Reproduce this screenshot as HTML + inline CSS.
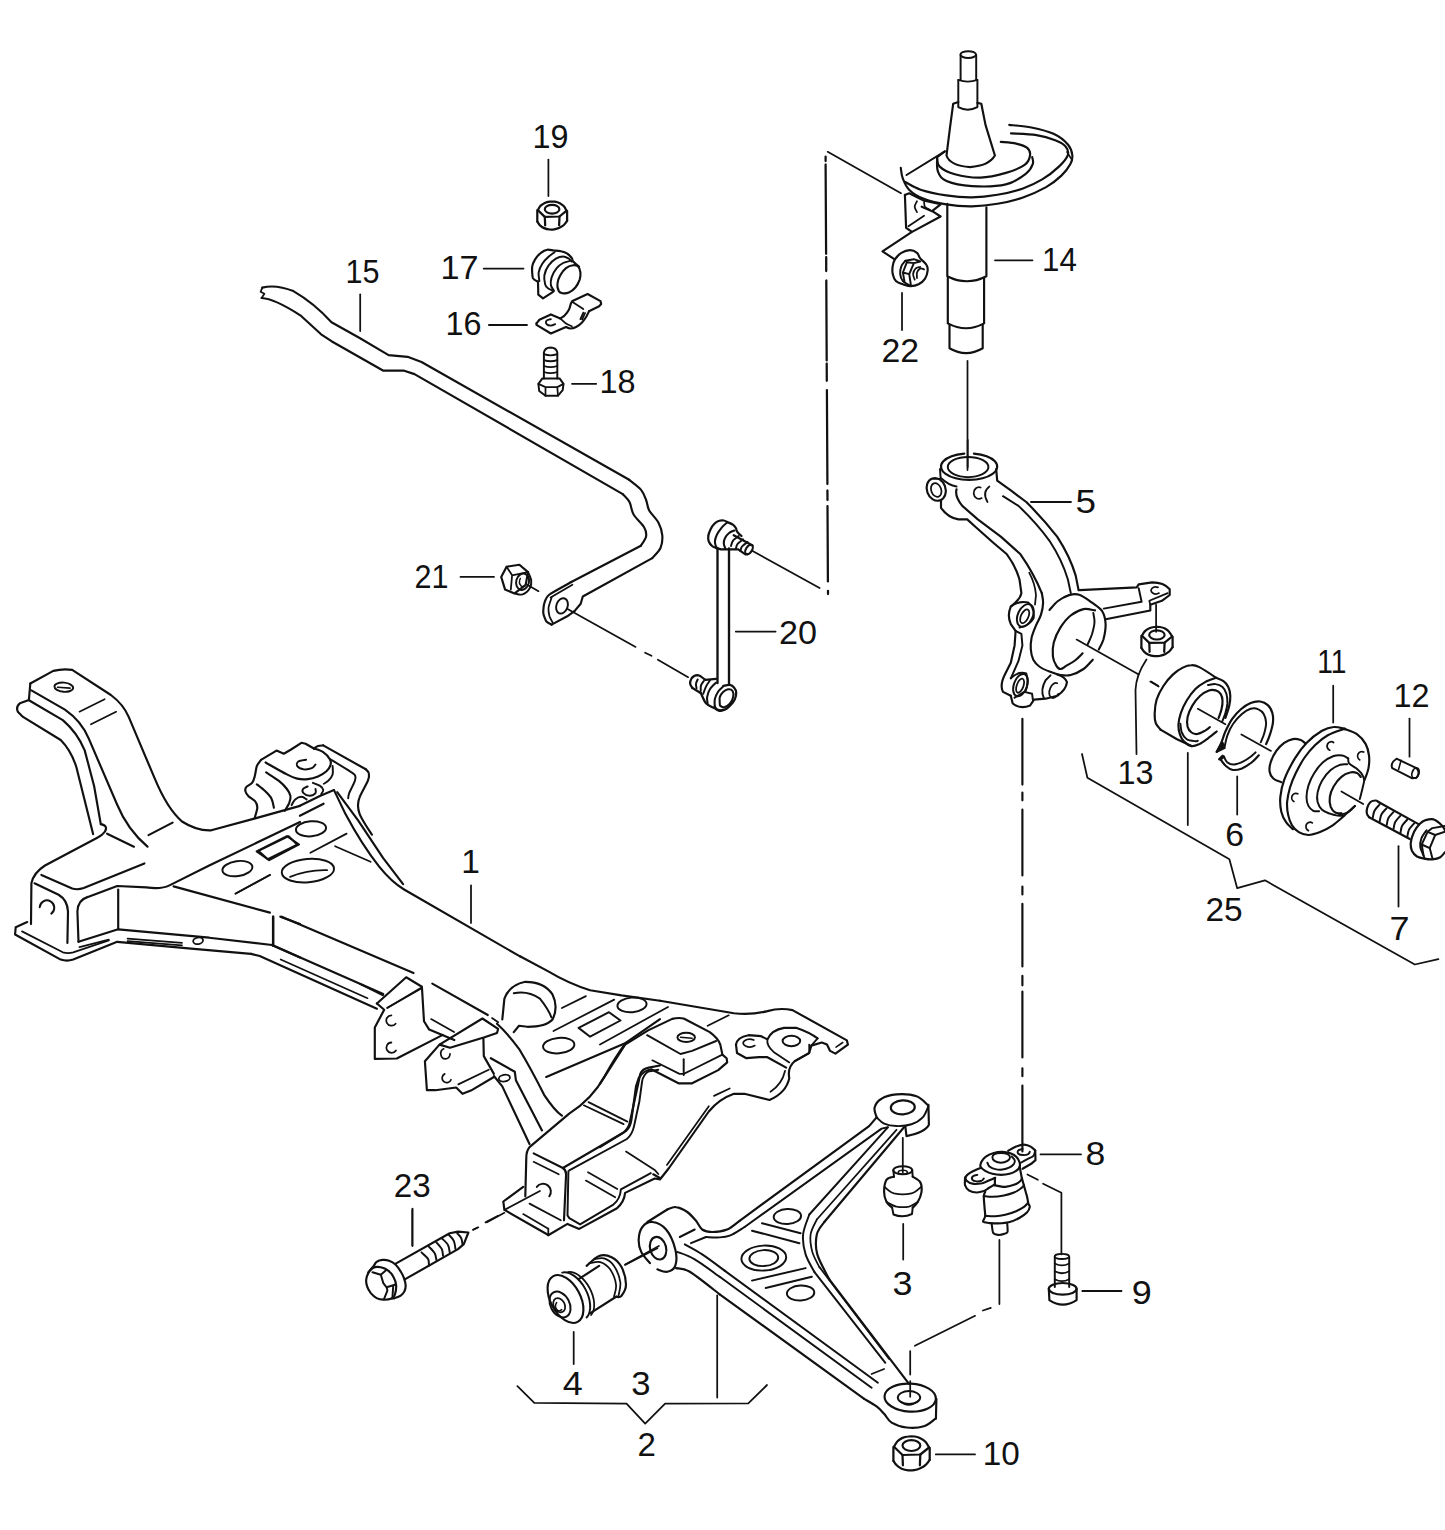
<!DOCTYPE html>
<html><head><meta charset="utf-8"><title>Front suspension parts diagram</title>
<style>
html,body{margin:0;padding:0;background:#fff;}
body{width:1445px;height:1530px;overflow:hidden;}
svg{display:block;}
svg path,svg ellipse,svg line,svg circle{fill:none;stroke:#111;stroke-linecap:round;stroke-linejoin:round;}
svg text{font-family:"Liberation Sans","DejaVu Sans",sans-serif;fill:#111;stroke:none;}
</style></head><body>
<svg width="1445" height="1530" viewBox="0 0 1445 1530">
<rect width="1445" height="1530" fill="#fff"/>
<g>
<path d="M 30.3 683.5 L 53.3 670.9 Q 62.8 668.4 72.2 669.9 L 110.9 695.0 Q 123.4 704.4 128.7 716.9 L 154.8 778.7 Q 167.4 809.0 182.0 821.5 Q 196.7 831.0 211.3 830.3 L 255.2 818.4 L 300.0 805.9" stroke-width="2.16" />
<path d="M 30.3 683.5 L 28.9 699.8" stroke-width="2.16" />
<path d="M 31.4 690.4 L 64.9 709.6 Q 81.6 721.1 88.9 738.9 L 117.2 804.8 Q 127.6 829.9 147.5 846.7" stroke-width="2.16" />
<path d="M 28.9 700.2 L 62.8 720.1 Q 77.4 732.6 84.7 750.4 L 94.1 786.0 L 100.8 824.1" stroke-width="2.16" />
<path d="M 28.2 700.2 L 19.9 703.3 Q 15.7 706.5 17.8 711.7 L 23.0 716.9 L 60.7 740.0 Q 71.1 750.4 76.4 767.2 L 93.1 834.1" stroke-width="2.16" />
<path d="M 100.8 824.1 Q 108.8 825.7 104.6 832.0 Q 102.5 835.1 97.3 837.7 L 45.0 865.5 Q 33.5 872.8 31.4 883.3 L 31.0 924.1" stroke-width="2.16" />
<path d="M 107.1 833.7 L 133.9 846.7" stroke-width="2.16" />
<path d="M 148.5 835.1 L 172.6 822.6" stroke-width="2.16" />
<path d="M 41.4 874.9 L 72.2 888.5 Q 77.4 890.2 83.7 888.1 L 144.4 863.4" stroke-width="2.16" />
<path d="M 34.5 883.3 L 58.6 894.8 Q 67.4 900.0 68.0 911.5 L 67.4 942.9" stroke-width="2.16" />
<path d="M 78.5 941.8 L 77.4 911.5 Q 77.8 900.0 87.9 896.9 L 117.2 886.0 L 146.4 887.4 Q 161.1 889.5 169.5 885.4 L 209.2 865.5 L 300.0 822.0" stroke-width="2.16" />
<path d="M 118.2 889.5 L 118.2 929.3" stroke-width="2.16" />
<path d="M 78.5 941.8 L 118.2 929.3 L 209.2 937.7 L 272.0 945.0 L 300.0 957.5" stroke-width="2.16" />
<path d="M 27.2 922.0 L 15.7 927.2 L 15.1 934.5 L 60.7 959.6 Q 66.9 961.7 73.2 959.6 L 117.2 941.8 L 188.3 948.3 L 251.0 953.8" stroke-width="2.16" />
<path d="M 22.0 931.4 L 62.8 952.3 Q 68.0 953.8 73.2 952.3 L 108.8 940.4" stroke-width="1.76" />
<path d="M 79.5 947.1 L 108.8 939.7" stroke-width="1.76" />
<path d="M 127.6 938.7 L 182.0 942.9" stroke-width="1.76" />
<path d="M 127.6 941.2 L 182.0 945.4" stroke-width="1.76" />
<ellipse cx="198.1" cy="940.8" rx="5.0" ry="3.3" transform="rotate(-10 198.1 940.8)" stroke-width="1.76" />
<path d="M 273.0 916.7 L 273.0 945.0" stroke-width="2.16" />
<path d="M 173.6 886.4 L 269.9 912.6" stroke-width="2.16" />
<path d="M 280.3 916.7 L 300.0 924.1" stroke-width="2.16" />
<ellipse cx="63.8" cy="687.2" rx="9.4" ry="4.6" transform="rotate(5 63.8 687.2)" stroke-width="1.96" />
<path d="M 57.5 687.2 L 70.1 688.1" stroke-width="1.57" />
<path d="M 79.5 711.7 L 104.6 699.2" stroke-width="1.76" />
<path d="M 91.0 724.3 L 116.1 711.7" stroke-width="1.76" />
<path d="M 39.7 907.3 A 7.3 7.3 0 1 1 51.3 913.6" stroke-width="1.96" />
<ellipse cx="237.4" cy="868.6" rx="15.1" ry="7.5" transform="rotate(-8 237.4 868.6)" stroke-width="1.96" />
<path d="M 258.4 850.8 L 288.7 836.2 L 297.1 844.6 L 267.8 859.2 Z" stroke-width="1.96" />
<path d="M 235.4 893.7 L 269.9 874.9" stroke-width="1.76" />
<path d="M 299.9 805.8 L 320.4 795.7 L 334.0 790.1" stroke-width="2.16" />
<path d="M 299.9 815.8 L 323.6 803.7" stroke-width="2.16" />
<path d="M 334.0 790.1 L 345.5 814.1 Q 362.3 845.5 379.0 866.4 Q 391.5 882.1 404.1 889.5 L 520.0 956.4" stroke-width="2.16" />
<path d="M 337.2 792.2 L 358.1 820.4 L 383.2 858.1 L 403.1 884.2" stroke-width="2.16" />
<path d="M254.7 818.0 C255.0 816.8 257.3 809.6 257.3 807.7 C257.4 805.7 256.3 802.8 255.2 801.4 C254.2 800.1 249.6 797.5 248.5 796.2 C247.3 795.0 245.6 792.1 245.4 791.1 C245.1 790.0 245.6 787.9 246.4 786.9 C247.2 785.9 251.2 784.0 252.1 782.8 C253.1 781.5 254.2 778.5 254.7 776.5 C255.3 774.6 256.1 768.1 256.8 766.1 C257.5 764.2 260.5 760.6 261.0 759.9" stroke-width="2.16" />
<path d="M 261.0 759.9 L 276.5 750.6 L 283.8 753.7 L 291.1 749.5 L 301.4 742.8 L 305.6 743.8 L 313.9 748.5" stroke-width="2.16" />
<path d="M313.9 748.5 C314.6 748.1 316.5 746.4 318.0 745.9 C319.6 745.4 322.4 745.5 323.2 745.4" stroke-width="2.16" />
<path d="M 323.2 745.4 L 365.8 769.3" stroke-width="2.16" />
<path d="M365.8 769.3 C366.3 769.9 368.6 771.5 368.9 773.4 C369.3 775.3 369.4 776.7 367.9 780.7 C366.3 784.7 361.2 793.1 359.6 797.3 C357.9 801.4 358.0 802.8 358.0 805.6 C358.0 808.4 358.3 810.6 359.6 813.9 C360.9 817.2 363.7 821.9 365.8 825.3 C367.9 828.8 371.0 833.1 372.0 834.7" stroke-width="2.16" />
<path d="M330.5 759.4 C332.5 760.6 352.3 772.7 354.4 774.4 C356.4 776.2 355.3 779.1 354.9 780.7 C354.5 782.2 349.8 791.7 349.2 793.1 C348.6 794.6 348.2 797.9 348.2 798.3" stroke-width="1.96" />
<path d="M265.6 762.5 C269.2 764.5 281.6 771.8 286.9 774.4 C292.2 777.1 293.8 777.8 297.3 778.6 C300.7 779.4 304.2 779.5 307.7 779.1 C311.1 778.8 314.9 777.8 318.0 776.5 C321.2 775.2 324.3 773.2 326.4 771.3 C328.4 769.4 329.9 767.1 330.5 765.1 C331.1 763.1 331.2 761.6 330.0 759.4 C328.8 757.2 325.9 753.9 323.2 752.1 C320.6 750.3 315.5 749.1 313.9 748.5" stroke-width="2.16" />
<path d="M306.1 759.7 C304.8 760.0 299.8 760.4 298.3 761.5 C296.9 762.5 296.4 764.8 297.3 766.1 C298.2 767.4 301.1 768.9 303.5 769.3 C305.9 769.6 309.8 769.0 311.8 768.2 C313.8 767.4 314.8 765.2 315.5 764.6" stroke-width="1.96" />
<path d="M266.1 772.4 C268.2 773.8 275.1 777.9 278.6 780.7 C282.1 783.4 284.9 786.4 286.9 789.0 C288.9 791.6 290.2 793.8 290.5 796.2 C290.9 798.7 289.9 801.1 289.0 803.5 C288.0 805.9 285.5 809.6 284.8 810.8" stroke-width="2.16" />
<path d="M256.8 784.3 C258.2 785.4 262.7 788.7 265.1 791.1 C267.5 793.4 269.9 795.6 271.3 798.3 C272.8 801.1 273.5 806.1 273.9 807.7" stroke-width="2.16" />
<path d="M332.6 766.1 C332.6 767.5 333.3 772.0 332.6 774.4 C331.9 776.9 329.9 779.1 328.4 780.7 C327.0 782.2 324.5 783.3 323.8 783.8" stroke-width="1.96" />
<path d="M307.7 786.4 C306.9 786.8 303.7 787.9 303.0 789.0 C302.3 790.1 302.4 792.0 303.5 793.1 C304.6 794.3 307.8 795.7 309.7 795.7 C311.7 795.7 314.5 794.3 315.5 793.1 C316.4 792.0 315.5 789.7 315.5 789.0" stroke-width="1.96" />
<path d="M312.9 782.8 C314.1 783.3 318.4 784.7 320.1 785.9 C321.9 787.1 323.1 788.6 323.2 790.0 C323.4 791.4 321.5 793.5 321.2 794.2" stroke-width="1.96" />
<path d="M291.6 805.1 C292.2 804.1 293.6 800.7 295.2 799.4 C296.9 798.0 299.5 796.8 301.4 796.8 C303.3 796.8 305.8 798.9 306.6 799.4" stroke-width="1.96" />
<ellipse cx="311.0" cy="828.8" rx="15.1" ry="7.5" transform="rotate(-5 311.0 828.8)" stroke-width="1.96" />
<path d="M 256.6 851.4 L 286.9 836.1 L 299.1 844.5 L 269.2 860.2 Z" stroke-width="1.96" />
<ellipse cx="307.9" cy="870.6" rx="26.2" ry="11.7" transform="rotate(-5 307.9 870.6)" stroke-width="1.96" />
<path d="M 290.1 876.9 Q 307.9 869.6 327.1 870.2" stroke-width="1.76" />
<path d="M 235.7 893.6 L 270.2 874.8" stroke-width="1.76" />
<path d="M 310.4 852.8 L 346.6 833.6" stroke-width="1.76" />
<path d="M 335.1 846.2 L 370.6 861.8" stroke-width="1.76" />
<path d="M 273.3 916.7 L 273.3 945.9" stroke-width="2.16" />
<path d="M 281.7 916.7 L 413.5 973.1" stroke-width="2.16" />
<path d="M 271.9 944.9 L 383.2 994.1" stroke-width="2.16" />
<path d="M 251.0 953.9 L 259.7 956.0 L 376.9 1008.7" stroke-width="2.16" />
<path d="M 280.7 959.5 L 367.5 998.2" stroke-width="1.76" />
<path d="M 376.9 1003.5 L 406.2 977.3 L 421.9 986.7 L 424.0 1021.3 L 429.2 1029.6 L 454.3 1040.1" stroke-width="2.16" />
<path d="M 376.9 1003.5 L 384.2 1009.7 L 374.8 1027.5 L 374.8 1058.9 L 396.8 1058.5 L 442.8 1034.9" stroke-width="2.16" />
<path d="M 387.4 1007.7 L 420.8 988.8" stroke-width="1.76" />
<path d="M 432.3 983.6 L 487.8 1015.0" stroke-width="2.16" />
<path d="M 492.0 1018.1 L 498.2 1022.3" stroke-width="1.76" />
<path d="M 471.0 885.3 L 471.0 922.9" stroke-width="1.76" />
<path d="M 520.0 956.3 L 548.3 971.4 Q 569.2 983.9 590.1 990.2 L 621.5 995.4 L 660.0 1000.7" stroke-width="2.16" />
<path d="M 360.0 983.9 L 383.0 995.4" stroke-width="1.76" />
<path d="M 387.2 1008.0 L 420.7 988.1" stroke-width="1.76" />
<path d="M 391.4 1015.3 A 5.2 5.2 0 1 0 395.6 1023.7" stroke-width="1.76" />
<path d="M 391.4 1042.5 A 5.2 5.2 0 1 0 396.0 1050.5" stroke-width="1.76" />
<path d="M 431.1 1019.1 L 454.1 1032.1" stroke-width="1.76" />
<path d="M 439.5 1044.6 L 482.4 1018.5 L 498.1 1028.9 L 497.0 1033.1 L 484.5 1037.3 L 450.0 1047.7 Z" stroke-width="2.16" />
<path d="M 439.5 1044.6 L 424.9 1061.3 L 426.9 1090.2 L 435.3 1090.2 L 456.2 1087.5 L 462.5 1093.8 L 470.9 1090.6 L 493.9 1077.0" stroke-width="2.16" />
<path d="M 483.4 1038.3 L 483.8 1056.1 L 493.9 1073.9" stroke-width="2.16" />
<path d="M 458.3 1084.4 L 488.7 1069.7" stroke-width="1.76" />
<path d="M 443.7 1048.8 A 4.6 5.2 0 1 0 450.0 1054.0" stroke-width="1.76" />
<path d="M 444.7 1073.9 A 4.6 4.6 0 1 0 451.0 1079.7" stroke-width="1.76" />
<path d="M 502.3 1019.5 L 504.4 998.6 Q 509.6 985.0 525.3 981.8 Q 544.1 981.8 552.5 994.4 Q 558.7 1006.9 552.5 1019.5 Q 546.2 1026.8 527.4 1026.8 L 519.0 1025.8 L 513.8 1032.1" stroke-width="2.16" />
<path d="M 513.8 993.3 Q 527.4 990.2 539.9 998.6 Q 548.3 1009.0 551.4 1017.4" stroke-width="1.96" />
<path d="M 497.0 1023.7 Q 506.4 1032.1 519.0 1048.8 Q 531.5 1069.7 544.1 1094.8 Q 554.6 1110.5 561.9 1115.7" stroke-width="2.16" />
<path d="M 490.8 1058.2 L 514.8 1071.8 L 515.9 1080.2 L 542.0 1130.4" stroke-width="2.16" />
<path d="M 493.9 1076.0 L 502.3 1086.4 L 529.5 1144.0" stroke-width="2.16" />
<ellipse cx="504.4" cy="1078.1" rx="5.6" ry="3.3" transform="rotate(-10 504.4 1078.1)" stroke-width="1.76" />
<ellipse cx="632.0" cy="1004.9" rx="14.6" ry="7.3" transform="rotate(-5 632.0 1004.9)" stroke-width="1.96" />
<path d="M 578.6 1027.9 L 609.0 1012.2 L 620.5 1020.5 L 590.1 1036.7 Z" stroke-width="1.96" />
<ellipse cx="558.7" cy="1045.6" rx="15.7" ry="7.7" transform="rotate(-5 558.7 1045.6)" stroke-width="1.96" />
<path d="M 561.9 1008.0 L 585.9 996.1" stroke-width="1.76" />
<path d="M 553.5 1031.0 L 614.2 999.6" stroke-width="1.76" />
<path d="M 546.2 1077.0 L 625.7 1042.9 L 660.0 1019.1" stroke-width="2.16" />
<path d="M 625.7 1042.9 Q 615.2 1057.2 604.8 1076.0 Q 592.2 1099.0 569.2 1113.6 L 529.5 1147.1 Q 526.3 1151.3 526.3 1157.6 L 525.3 1196.3" stroke-width="2.16" />
<path d="M 523.2 1186.9 L 503.3 1201.5 L 504.4 1209.9 L 548.3 1235.0" stroke-width="2.16" />
<path d="M 533.6 1153.4 L 562.9 1168.0 Q 566.1 1170.1 566.1 1174.3 L 564.0 1220.3" stroke-width="2.16" />
<path d="M 562.9 1168.0 L 623.6 1132.5 Q 628.8 1128.3 629.9 1122.0 L 640.3 1073.9 Q 642.4 1068.7 648.7 1067.6 L 660.0 1065.5" stroke-width="2.16" />
<path d="M 583.8 1105.3 L 623.6 1124.1" stroke-width="1.76" />
<path d="M 588.5 1102.1 L 627.4 1121.6" stroke-width="1.76" />
<path d="M 533.6 1161.8 L 558.7 1174.3" stroke-width="1.76" />
<path d="M 588.0 1172.2 L 617.3 1189.0" stroke-width="1.76" />
<path d="M 585.9 1180.6 L 615.2 1197.3" stroke-width="1.76" />
<path d="M 536.8 1186.9 A 7.3 7.3 0 1 1 549.3 1196.3" stroke-width="1.96" />
<path d="M 504.4 1209.9 L 539.9 1191.0" stroke-width="1.76" />
<path d="M 485.5 1222.4 L 498.1 1215.7" stroke-width="1.76" />
<path d="M 473.0 1229.7 L 477.2 1227.7" stroke-width="1.76" />
<path d="M 529.5 1203.6 L 560.8 1220.3" stroke-width="1.76" />
<path d="M 523.2 1214.1 L 548.3 1228.7" stroke-width="1.76" />
<path d="M 548.3 1228.7 L 548.3 1235.0" stroke-width="1.76" />
<path d="M 412.3 1209.9 L 412.3 1245.4" stroke-width="1.76" />
<path d="M 660.0 1000.7 L 733.9 1013.2 Q 750.6 1015.3 767.4 1011.1 Q 779.9 1007.4 792.5 1010.1 L 846.9 1040.4 L 847.9 1044.6 L 835.4 1053.6 L 830.1 1050.9 L 827.0 1044.6 L 821.8 1042.5 L 811.3 1045.6 L 809.2 1053.0 L 794.6 1061.3 Q 787.2 1067.6 789.3 1078.1 Q 786.2 1092.7 769.5 1100.0 L 744.4 1093.8 L 733.9 1093.8 Q 719.2 1099.0 708.8 1111.5 L 669.0 1168.0 L 660.7 1178.5 L 653.3 1174.3" stroke-width="2.16" />
<path d="M 842.7 1042.5 L 836.0 1047.1" stroke-width="1.57" />
<path d="M 809.2 1044.6 L 809.2 1053.0" stroke-width="1.76" />
<path d="M 811.3 1045.6 L 817.6 1038.3" stroke-width="1.76" />
<path d="M 736.0 1044.6 Q 737.0 1037.3 748.5 1035.2 L 761.1 1036.2 L 767.4 1039.4 Q 771.5 1030.0 784.1 1027.9 L 796.7 1027.9 Q 809.2 1032.1 817.6 1038.3" stroke-width="2.16" />
<path d="M 736.0 1044.6 L 737.0 1053.0 L 746.4 1058.2 L 759.0 1057.2 L 767.4 1057.2 L 786.2 1067.6" stroke-width="2.16" />
<path d="M 767.4 1039.4 Q 766.3 1045.6 773.6 1051.9 L 789.3 1062.4" stroke-width="1.76" />
<path d="M 794.6 1061.3 L 809.2 1053.0" stroke-width="1.76" />
<path d="M 753.8 1040.0 A 6.7 3.8 0 1 0 754.8 1045.6" stroke-width="1.76" />
<ellipse cx="791.4" cy="1041.0" rx="8.8" ry="5.2" transform="rotate(0 791.4 1041.0)" stroke-width="1.96" />
<path d="M 770.5 1091.7 Q 782.0 1084.4 785.1 1070.8" stroke-width="1.76" />
<path d="M 600.0 1083.9 L 625.1 1044.6 L 648.1 1030.4 L 672.2 1018.9 Q 678.5 1017.4 683.7 1018.5 L 709.8 1032.1 Q 718.2 1038.3 720.3 1044.6 L 722.4 1054.6 L 726.6 1058.2 L 727.2 1062.4 L 718.2 1070.1 L 692.1 1083.3 L 678.5 1083.3 L 651.3 1069.3 Q 642.9 1070.8 638.7 1078.1 L 636.0 1086.4 L 631.4 1119.9 Q 630.3 1127.2 626.2 1130.8 L 600.0 1147.1" stroke-width="2.16" />
<path d="M 647.1 1035.2 L 680.5 1054.0 L 692.1 1050.9 L 716.1 1041.0" stroke-width="1.96" />
<path d="M 683.7 1059.2 L 683.7 1074.9" stroke-width="1.96" />
<path d="M 722.4 1054.6 L 692.1 1069.7 L 683.7 1073.9 L 679.5 1073.9 L 652.3 1060.3" stroke-width="1.76" />
<ellipse cx="686.2" cy="1037.3" rx="8.8" ry="4.6" transform="rotate(0 686.2 1037.3)" stroke-width="1.96" />
<path d="M 680.5 1037.3 L 692.1 1038.3" stroke-width="1.57" />
<path d="M 707.7 1025.8 L 728.7 1015.3" stroke-width="1.76" />
<path d="M 600.0 1044.6 L 668.0 1006.9" stroke-width="1.76" />
<path d="M 714.0 1095.9 L 729.7 1088.5" stroke-width="1.76" />
<path d="M 708.8 1106.3 L 666.9 1164.9" stroke-width="1.76" />
<path d="M 548.4 159.6 L 548.4 196.0" stroke-width="1.76" />
<path d="M 483.7 268.6 L 523.5 268.6" stroke-width="1.76" />
<path d="M 488.9 325.0 L 527.0 325.0" stroke-width="1.76" />
<path d="M 360.2 294.5 L 360.2 331.0" stroke-width="1.76" />
<path d="M 572.0 383.8 L 596.2 383.8" stroke-width="1.76" />
<path d="M 995.0 260.3 L 1032.5 260.3" stroke-width="1.76" />
<path d="M 902.0 293.0 L 902.0 330.0" stroke-width="1.76" />
<path d="M 1031.0 502.0 L 1071.0 502.0" stroke-width="1.76" />
<path d="M 460.5 576.9 L 494.0 576.9" stroke-width="1.76" />
<path d="M 735.8 631.6 L 775.6 631.6" stroke-width="1.76" />
<path d="M 1333.2 685.7 L 1333.2 722.6" stroke-width="1.76" />
<path d="M 1409.5 718.6 L 1409.5 756.7" stroke-width="1.76" />
<path d="M 1398.5 846.2 L 1398.5 906.6" stroke-width="1.76" />
<path d="M 1237.2 776.5 L 1237.2 814.6" stroke-width="1.76" />
<path d="M 1187.8 752.8 L 1187.8 825.0" stroke-width="1.76" />
<path d="M 1146.5 659.4 Q 1136.0 675.0 1135.5 690.0 L 1136.5 754.0" stroke-width="1.76" />
<path d="M 1040.5 1154.4 L 1081.0 1154.4" stroke-width="1.76" />
<path d="M 1082.3 1291.0 L 1121.5 1291.0" stroke-width="1.76" />
<path d="M 935.8 1454.4 L 975.0 1454.4" stroke-width="1.76" />
<path d="M 903.2 1224.0 L 903.2 1259.5" stroke-width="1.76" />
<path d="M 412.5 1208.6 L 412.5 1246.0" stroke-width="1.76" />
<path d="M 573.7 1332.0 L 573.7 1364.0" stroke-width="1.76" />
<path d="M 717.2 1295.5 L 717.2 1397.6" stroke-width="1.76" />
<path d="M 517.4 1386.2 L 534.3 1402.9 L 626.5 1403.7 L 645.2 1423.6 L 665.1 1403.7 L 748.3 1403.4 L 767.0 1385.0" stroke-width="1.76" />
<path d="M 1082.0 754.0 L 1087.4 777.8 L 1229.4 859.3 L 1237.2 888.2 L 1264.9 880.3 L 1414.8 964.5 L 1438.4 959.2" stroke-width="1.76" />
<path d="M 262.3 287.6 L 260.6 291.8 L 264.4 293.8 L 261.6 298.0" stroke-width="1.76" />
<path d="M 262.3 287.6 Q 276.1 284.2 293.4 291.1 Q 314.2 303.2 331.5 322.2 L 359.2 337.8 L 388.6 355.1 L 407.6 356.8 L 421.5 362.0 L 629.2 479.8" stroke-width="2.16" />
<path d="M 261.6 298.0 Q 274.4 298.7 300.3 315.3 L 321.1 334.3 L 331.5 341.2 L 383.4 370.7 L 404.2 370.7 L 414.5 374.1 L 622.8 494.1" stroke-width="2.16" />
<path d="M629.3 479.9 C631.2 481.5 638.1 486.3 640.9 489.6 C643.7 493.0 644.7 496.5 646.1 500.0 C647.5 503.5 647.1 506.6 649.2 510.4 C651.3 514.2 656.4 518.7 658.5 522.8 C660.7 527.0 661.9 531.1 662.3 535.3 C662.6 539.4 662.3 543.9 660.6 547.8 C659.0 551.6 653.7 556.4 652.3 558.1" stroke-width="2.16" />
<path d="M 652.3 558.1 L 582.8 596.5 L 580.7 603.8 L 574.5 611.1" stroke-width="2.16" />
<path d="M622.8 494.2 C623.9 495.5 627.7 498.7 629.5 502.1 C631.3 505.5 631.2 510.4 633.6 514.5 C636.1 518.7 641.9 523.4 644.0 527.0 C646.1 530.6 646.6 533.2 646.1 536.3 C645.6 539.4 641.8 544.1 640.9 545.7" stroke-width="2.16" />
<path d="M 640.9 545.7 L 571.3 582.0" stroke-width="2.16" />
<path d="M571.3 582.0 C569.2 583.3 552.2 592.4 549.5 594.5 C546.9 596.5 545.0 600.9 544.4 602.8 C543.7 604.6 543.1 611.3 543.3 613.1 C543.5 615.0 545.6 620.3 546.4 621.5 C547.3 622.6 551.1 624.3 551.6 624.6" stroke-width="2.16" />
<path d="M 551.6 624.6 L 567.2 616.3 L 574.5 611.1" stroke-width="2.16" />
<path d="M551.6 597.6 C551.1 599.3 548.9 604.8 548.5 608.0 C548.2 611.1 548.9 613.8 549.5 616.3 C550.2 618.7 552.1 621.5 552.7 622.5" stroke-width="1.76" />
<path d="M 550.6 597.6 L 572.4 584.7" stroke-width="1.76" />
<ellipse cx="562.0" cy="605.9" rx="5.6" ry="7.9" transform="rotate(20 562.0 605.9)" stroke-width="1.96" />
<path d="M 567.1 608.7 L 635.6 646.9" stroke-width="1.76" />
<path d="M 645.1 652.7 L 651.5 655.8" stroke-width="1.76" />
<path d="M 657.9 659.7 L 688.1 677.2" stroke-width="1.76" />
<path d="M 527.3 584.8 L 538.5 591.2" stroke-width="1.76" />
<path d="M 717.5 548.0 L 717.5 683.0 M 729.0 548.5 L 729.0 684.0" stroke-width="2.35" />
<path d="M716.6 548.2 C715.8 547.8 713.4 547.1 712.1 546.0 C710.9 544.9 709.5 543.2 708.8 541.5 C708.2 539.9 708.0 538.0 708.3 536.0 C708.5 534.0 709.5 531.4 710.5 529.4 C711.5 527.3 712.9 525.3 714.4 523.8 C715.8 522.4 717.8 521.3 719.3 520.8 C720.9 520.2 722.4 520.3 723.8 520.5 C725.2 520.7 726.1 521.4 727.6 522.2 C729.2 522.9 731.8 523.9 733.2 524.9 C734.6 525.9 735.3 527.1 736.0 528.3 C736.6 529.4 736.1 530.3 737.1 531.6 C738.0 532.9 740.7 535.3 741.5 536.0" stroke-width="2.25" />
<path d="M727.6 522.2 C726.7 523.0 723.9 525.1 722.1 527.1 C720.4 529.2 718.3 531.9 717.1 534.3 C715.9 536.7 715.0 539.2 714.9 541.5 C714.8 543.8 716.3 547.1 716.6 548.2" stroke-width="2.06" />
<path d="M734.3 530.5 C733.4 530.9 730.3 531.9 728.8 533.2 C727.2 534.5 725.7 536.5 724.9 538.2 C724.0 540.0 723.7 542.0 723.8 543.8 C723.9 545.5 725.2 547.9 725.4 548.7" stroke-width="2.06" />
<path d="M 716.6 548.2 L 721.0 549.3 L 728.8 549.3 L 738.2 549.3 L 745.4 554.3 L 748.1 554.0" stroke-width="2.25" />
<path d="M 733.7 535.2 L 752.6 545.4" stroke-width="2.25" />
<ellipse cx="749.0" cy="549.6" rx="3.0" ry="5.3" transform="rotate(32 749.0 549.6)" stroke-width="2.16" />
<path d="M738.7 536.0 C737.8 536.7 734.5 538.8 733.2 540.4 C731.9 542.1 731.3 545.0 731.0 546.0" stroke-width="1.96" />
<path d="M743.1 539.3 C742.2 540.1 738.8 542.3 737.6 543.8 C736.4 545.2 736.2 547.4 736.0 548.2" stroke-width="1.96" />
<path d="M747.6 542.1 C746.7 542.8 743.2 545.0 742.0 546.5 C740.8 548.0 740.7 550.2 740.4 551.0" stroke-width="1.96" />
<path d="M 752.6 551.0 L 819.6 588.0" stroke-width="1.76" />
<path d="M705.4 679.9 C704.7 679.4 702.3 677.4 701.0 676.6 C699.7 675.8 698.9 675.3 697.7 675.2 C696.5 675.2 694.9 675.6 693.8 676.3 C692.7 677.0 691.6 678.1 691.0 679.4 C690.4 680.6 690.0 682.4 690.2 683.8 C690.4 685.2 691.8 687.0 692.1 687.7" stroke-width="2.25" />
<path d="M 692.1 687.7 L 701.0 693.2 M 705.4 679.9 L 716.0 678.8" stroke-width="2.25" />
<path d="M697.7 679.4 C697.4 680.1 696.2 682.3 696.0 683.8 C695.8 685.3 696.5 687.5 696.6 688.2" stroke-width="1.96" />
<path d="M703.8 681.0 C703.3 681.8 701.5 683.8 701.0 685.4 C700.5 687.1 700.8 690.1 700.7 691.0" stroke-width="1.96" />
<path d="M701.0 693.2 C701.8 694.9 703.8 700.7 706.0 703.2 C708.2 705.7 712.0 706.9 714.3 708.1 C716.6 709.4 718.4 710.6 719.8 710.9 C721.3 711.2 722.6 710.0 723.1 709.8" stroke-width="2.25" />
<path d="M709.9 680.5 C709.2 681.5 707.1 684.3 706.0 686.6 C704.9 688.8 703.7 692.6 703.2 693.8" stroke-width="1.96" />
<path d="M716.0 682.7 C714.9 683.8 711.3 686.9 709.9 689.3 C708.4 691.7 707.5 694.8 707.1 697.1 C706.7 699.4 707.6 702.2 707.6 703.2" stroke-width="2.06" />
<path d="M723.1 686.6 C722.3 687.4 719.6 689.4 718.2 691.5 C716.8 693.7 715.4 696.5 714.8 699.3 C714.3 702.1 714.8 706.7 714.8 708.1" stroke-width="2.06" />
<path d="M723.1 686.0 C724.3 685.8 727.9 684.6 729.8 684.9 C731.6 685.2 733.2 686.4 734.2 687.7 C735.3 689.0 736.1 690.7 736.2 692.6 C736.3 694.6 735.7 697.3 734.8 699.3 C733.9 701.3 732.3 703.3 730.9 704.8 C729.5 706.4 727.9 707.8 726.5 708.7 C725.0 709.6 723.6 710.2 722.0 710.4 C720.5 710.5 718.3 710.2 717.1 709.5 C715.9 708.9 715.2 707.0 714.8 706.5" stroke-width="2.25" />
<path d="M719.8 703.7 C719.7 702.2 719.3 699.0 719.8 697.1 C720.4 695.1 721.8 693.4 723.1 692.1 C724.5 690.8 726.6 689.5 728.1 689.3 C729.7 689.1 731.7 689.7 732.6 691.0 C733.4 692.3 733.6 695.0 733.1 697.1 C732.7 699.2 731.3 702.0 729.8 703.7 C728.3 705.4 725.8 706.9 724.3 707.3 C722.7 707.7 721.1 706.5 720.4 705.9 C719.6 705.3 719.9 705.2 719.8 703.7 Z" stroke-width="2.06" />
<path d="M 825.6 156.6 L 825.6 161.0 M 825.6 164.5 L 826.1 253.8 M 826.2 257.0 L 826.2 271.0 M 826.3 280.5 L 826.7 360.4 M 826.7 363.5 L 826.8 380.8 M 826.9 390.0 L 827.4 484.0 M 827.4 490.5 L 827.5 500.0 M 827.5 506.0 L 827.9 581.4 M 828.0 590.8 L 828.0 594.0" stroke-width="2.25" />
<path d="M 827.7 151.8 L 901.0 193.3" stroke-width="1.76" />
<path d="M538.0 281.7 C537.3 281.2 533.7 280.1 532.9 278.1 C532.2 276.1 531.9 269.1 532.2 266.6 C532.5 264.1 533.9 261.4 535.1 259.4 C536.3 257.5 539.9 253.5 541.6 252.3 C543.2 251.0 545.7 250.0 547.3 249.7 C548.9 249.5 552.0 250.3 553.8 250.5 C555.6 250.6 559.2 250.7 561.0 251.2 C562.8 251.6 566.0 252.8 567.4 253.7 C568.9 254.6 571.0 257.0 571.8 258.0 C572.5 259.1 572.2 260.4 573.2 261.6 C574.2 262.7 578.2 266.0 579.0 266.6" stroke-width="2.16" />
<path d="M 538.0 281.7 L 538.3 294.7 L 543.0 298.3 L 553.1 291.8" stroke-width="2.16" />
<path d="M539.4 281.0 C539.3 279.6 538.2 275.3 538.7 272.4 C539.2 269.5 540.6 266.4 542.3 263.8 C544.0 261.1 546.7 258.5 548.8 256.6 C550.8 254.7 553.5 253.0 554.5 252.3" stroke-width="1.96" />
<path d="M553.8 291.1 C552.8 290.6 549.5 289.3 548.0 288.2 C546.6 287.1 545.8 286.8 545.2 284.6 C544.6 282.4 543.8 278.5 544.4 275.3 C545.0 272.0 546.8 267.9 548.8 265.2 C550.7 262.4 553.5 260.2 555.9 258.7 C558.3 257.3 561.0 256.6 563.1 256.6 C565.3 256.6 567.4 257.9 568.9 258.7 C570.3 259.6 571.3 261.1 571.8 261.6" stroke-width="1.96" />
<path d="M553.8 290.4 C553.3 289.5 551.3 287.5 550.9 285.3 C550.6 283.2 550.7 280.3 551.6 277.4 C552.6 274.5 554.7 270.5 556.7 268.1 C558.6 265.7 560.9 264.2 563.1 263.0 C565.4 261.8 569.1 261.2 570.3 260.9" stroke-width="1.96" />
<path d="M558.8 291.1 C558.0 289.5 557.1 286.5 557.4 283.9 C557.6 281.2 558.8 277.9 560.3 275.3 C561.7 272.6 563.9 269.7 566.0 268.1 C568.2 266.4 571.2 265.4 573.2 265.2 C575.2 265.0 577.0 265.4 578.2 266.6 C579.4 267.8 580.1 270.2 580.4 272.4 C580.6 274.5 580.5 277.1 579.7 279.6 C578.8 282.1 577.2 285.3 575.4 287.5 C573.6 289.6 571.0 291.6 568.9 292.5 C566.7 293.5 564.1 293.5 562.4 293.2 C560.7 293.0 559.7 292.6 558.8 291.1 Z" stroke-width="2.16" />
<path d="M 536.5 323.4 L 539.4 319.8 L 550.9 314.4 L 560.3 318.4" stroke-width="2.16" />
<path d="M560.3 318.4 C561.0 317.9 563.1 317.0 564.6 315.5 C566.0 314.1 567.8 311.8 568.9 309.8 C570.0 307.7 570.4 304.7 571.0 303.3 C571.6 301.9 572.2 301.5 572.5 301.1" stroke-width="2.16" />
<path d="M 572.5 301.1 L 587.6 294.0 L 600.5 301.1 L 601.2 304.0 L 599.1 306.2 L 589.0 311.2" stroke-width="2.16" />
<path d="M589.0 311.2 C588.5 312.2 587.3 315.0 586.1 317.0 C584.9 318.9 583.5 321.0 581.8 322.7 C580.1 324.4 578.0 326.1 576.1 327.0 C574.2 328.0 572.0 328.5 570.3 328.5 C568.6 328.5 566.7 327.3 566.0 327.0" stroke-width="2.16" />
<path d="M 566.0 327.0 L 550.9 333.5 L 536.5 324.9 L 536.5 323.4" stroke-width="2.16" />
<path d="M 572.5 301.9 L 583.3 309.0 M 583.3 312.6 L 580.4 319.1 M 585.1 313.0 L 582.2 319.5" stroke-width="1.76" />
<path d="M560.3 318.4 C561.2 319.2 564.1 322.1 566.0 323.4 C567.9 324.7 570.8 325.8 571.8 326.3" stroke-width="1.76" />
<path d="M550.9 319.1 C550.2 319.4 547.3 319.7 546.6 320.5 C545.9 321.4 545.9 323.3 546.6 324.1 C547.3 325.0 549.5 325.6 550.9 325.6 C552.4 325.6 554.5 324.4 555.2 324.1" stroke-width="1.76" />
<path d="M 543.9 378.4 L 543.9 352.5 Q 544.7 347.8 550.5 347.5 Q 556.5 347.8 557.3 352.5 L 557.3 378.4" stroke-width="1.96" />
<path d="M 543.9 354.1 Q 550.5 356.5 557.3 354.1 M 543.9 360.1 Q 550.5 362.4 557.3 360.1 M 543.9 366.0 Q 550.5 368.4 557.3 366.0 M 543.9 372.0 Q 550.5 374.4 557.3 372.0" stroke-width="1.76" />
<path d="M 538.4 383.9 L 542.4 378.4 L 559.6 378.4 L 563.5 383.9 L 562.7 390.2 L 558.0 395.7 L 545.5 395.7 L 539.2 391.0 Z" stroke-width="1.96" />
<path d="M 538.4 383.9 L 545.5 387.1 L 557.3 387.1 L 563.5 383.9 M 545.5 387.1 L 545.5 395.7 M 557.3 387.1 L 558.0 395.7" stroke-width="1.76" />
<ellipse cx="968.2" cy="54.6" rx="7.8" ry="3.4" transform="rotate(0 968.2 54.6)" stroke-width="1.96" />
<path d="M 960.6 55.0 L 960.6 79.9 M 976.2 55.0 L 976.2 79.9" stroke-width="1.96" />
<path d="M 958.3 79.9 L 958.3 107.1 Q 967.7 112.2 977.4 107.1 L 977.4 79.9" stroke-width="1.96" />
<path d="M 958.3 79.9 Q 967.7 83.3 977.4 79.9" stroke-width="1.76" />
<path d="M 958.3 102.0 L 953.2 103.7 L 949.9 128.3 L 946.5 155.5 Q 949.9 165.7 970.2 167.1 Q 988.9 165.7 994.9 155.5 L 985.5 124.9 L 981.3 103.7 L 977.4 102.9" stroke-width="2.16" />
<path d="M 944.8 151.3 L 937.1 157.2" stroke-width="2.16" />
<path d="M937.1 157.2 C937.5 158.8 936.7 163.7 939.7 166.6 C942.6 169.4 948.2 172.4 954.9 174.2 C961.7 176.1 971.9 177.8 980.4 177.6 C988.9 177.4 998.6 175.0 1005.9 172.9 C1013.3 170.7 1020.6 167.8 1024.6 164.9 C1028.6 162.0 1029.6 158.4 1030.0 155.5 C1030.5 152.7 1029.5 149.9 1027.2 147.9 C1024.8 145.9 1020.5 144.6 1016.1 143.6 C1011.7 142.6 1003.4 142.2 1000.8 141.9" stroke-width="2.16" />
<path d="M937.1 158.9 C937.2 161.0 936.4 168.0 938.0 171.7 C939.5 175.3 940.8 178.6 946.5 181.0 C952.1 183.4 962.0 185.5 971.9 186.1 C981.8 186.7 996.9 186.5 1005.9 184.4 C1015.0 182.3 1021.8 176.8 1026.3 173.4 C1030.8 170.0 1031.8 166.7 1032.8 164.0 C1033.8 161.3 1032.3 158.4 1032.2 157.2" stroke-width="2.16" />
<path d="M900.8 167.9 C901.1 169.6 901.3 174.6 902.7 178.2 C904.1 181.8 905.7 186.3 909.1 189.7 C912.5 193.1 917.0 196.1 923.2 198.6 C929.4 201.1 938.1 203.1 946.2 204.4 C954.3 205.7 963.3 206.4 971.8 206.3 C980.3 206.2 988.9 205.3 997.4 203.8 C1005.9 202.3 1014.9 200.2 1023.0 197.4 C1031.1 194.6 1039.7 190.7 1046.1 187.1 C1052.5 183.5 1057.4 179.4 1061.4 175.6 C1065.5 171.8 1068.6 167.5 1070.4 164.1 C1072.2 160.7 1072.7 158.4 1072.3 155.1 C1071.9 151.8 1071.0 148.1 1067.9 144.5 C1064.8 140.9 1059.6 136.6 1053.5 133.8 C1047.4 131.0 1038.8 129.0 1031.4 127.5 C1024.0 126.0 1013.0 125.3 1009.3 124.9" stroke-width="2.16" />
<path d="M905.2 182.0 C907.8 183.3 913.8 187.5 920.6 189.7 C927.4 191.9 937.7 194.1 946.2 195.4 C954.7 196.7 963.3 197.5 971.8 197.4 C980.3 197.3 988.9 196.3 997.4 194.8 C1005.9 193.3 1015.5 191.0 1023.0 188.4 C1030.5 185.8 1036.2 183.0 1042.2 179.4 C1048.2 175.8 1054.6 170.7 1058.9 166.6 C1063.2 162.5 1066.7 158.5 1067.8 155.1 C1068.9 151.7 1067.5 148.7 1065.4 146.2 C1063.3 143.7 1060.0 142.0 1055.2 140.2 C1050.4 138.3 1043.9 136.2 1036.5 135.1 C1029.1 134.0 1015.2 133.7 1011.0 133.4" stroke-width="2.16" />
<path d="M 1067.1 152.1 L 1071.3 158.9" stroke-width="1.76" />
<path d="M 906.5 175.0 L 944.9 151.3" stroke-width="1.96" />
<path d="M 947.3 203.9 L 947.3 276.2 Q 966.8 286.3 986.4 276.2 L 986.4 207.3" stroke-width="2.16" />
<path d="M 904.9 194.9 L 906.1 227.8 L 911.6 231.7" stroke-width="2.16" />
<path d="M 904.9 194.9 L 909.2 193.3 L 918.6 198.0 L 923.3 200.4 L 940.6 204.3 L 932.7 210.6" stroke-width="2.16" />
<path d="M 921.7 206.7 L 932.7 211.4 L 940.6 216.5 L 911.6 232.1 L 882.5 251.3 L 894.3 259.2" stroke-width="2.16" />
<path d="M917.0 201.2 C916.6 202.1 914.7 204.8 914.7 206.7 C914.7 208.5 916.6 211.2 917.0 212.1" stroke-width="1.76" />
<path d="M924.1 202.0 C924.2 202.7 924.0 205.3 924.9 206.7 C925.8 208.0 928.8 209.3 929.6 209.8" stroke-width="1.76" />
<path d="M 908.4 226.3 L 924.1 215.7" stroke-width="1.76" />
<path d="M902.9 284.3 C900.4 283.4 897.6 282.8 895.9 281.1 C894.2 279.4 893.3 276.6 892.7 274.1 C892.2 271.6 892.3 268.7 892.7 266.2 C893.1 263.8 893.7 261.4 895.1 259.2 C896.5 257.0 898.9 254.4 901.4 252.9 C903.8 251.4 907.4 250.2 910.0 250.2 C912.6 250.2 915.3 251.5 917.0 252.9 C918.7 254.3 918.6 256.4 920.2 258.4 C921.7 260.4 925.2 262.6 926.4 264.7 C927.7 266.8 927.9 268.6 927.6 270.9 C927.4 273.3 926.4 276.6 924.9 278.8 C923.4 281.0 921.0 283.0 918.6 284.3 C916.3 285.5 913.4 286.2 910.8 286.2 C908.2 286.2 905.4 285.1 902.9 284.3 Z" stroke-width="2.16" />
<path d="M905.3 260.8 C904.6 261.7 902.2 264.0 901.4 266.2 C900.5 268.5 899.9 271.6 900.2 274.1 C900.4 276.6 901.4 279.3 902.9 281.1 C904.4 283.0 908.2 284.4 909.2 285.1" stroke-width="1.96" />
<path d="M 905.3 260.8 L 913.9 259.2 L 920.2 261.5 L 913.9 263.1 L 906.8 262.3 L 902.9 272.5 L 909.2 274.1 L 913.9 263.1 M 909.2 274.1 L 910.8 284.3 M 902.9 272.5 L 904.5 281.9" stroke-width="1.96" />
<path d="M920.2 267.0 C919.4 267.3 916.6 267.4 915.5 268.6 C914.3 269.8 913.3 272.3 913.1 274.1 C913.0 275.9 914.4 278.7 914.7 279.6" stroke-width="1.76" />
<path d="M924.1 269.4 C923.4 269.2 921.4 268.1 920.2 268.6 C919.0 269.1 917.6 270.9 917.0 272.5 C916.5 274.1 917.0 277.1 917.0 278.0" stroke-width="1.76" />
<path d="M 947.8 277.8 L 947.8 323.4 Q 966.1 333.1 984.1 323.4 L 984.1 277.8" stroke-width="2.16" />
<path d="M 949.5 324.8 L 949.5 348.3 Q 966.1 358.0 982.7 348.3 L 982.7 324.8" stroke-width="2.16" />
<path d="M 967.5 361.0 L 967.5 470.0" stroke-width="1.76" />
<path d="M 964.3 453.6 A 28.1 13.2 0 1 0 973.9 453.6" stroke-width="2.16" />
<ellipse cx="968.1" cy="467.1" rx="20.3" ry="10.1" transform="rotate(0 968.1 467.1)" stroke-width="1.96" />
<path d="M 940.0 469.1 L 940.6 477.8 Q 948.8 485.5 956.5 486.5" stroke-width="1.96" />
<ellipse cx="936.2" cy="489.4" rx="9.3" ry="11.6" transform="rotate(-20 936.2 489.4)" stroke-width="2.16" />
<ellipse cx="936.2" cy="490.0" rx="5.0" ry="7.0" transform="rotate(-20 936.2 490.0)" stroke-width="1.76" />
<path d="M 941.0 478.8 L 932.9 478.8" stroke-width="1.76" />
<path d="M 941.0 500.5 L 941.0 507.8 Q 947.8 517.5 958.4 519.4 L 967.2 519.4 L 975.9 527.2 L 993.3 542.7 L 1006.9 554.3 Q 1015.6 566.0 1019.5 579.5 L 1021.4 593.1 Q 1020.5 598.9 1010.8 606.6 Q 1006.9 615.4 1010.8 624.1 L 1015.6 630.9 L 1014.6 645.4 L 1010.8 662.8 L 1004.9 674.5 Q 999.5 685.1 1003.0 691.9 L 1010.8 695.8" stroke-width="2.16" />
<path d="M 956.5 489.4 Q 954.6 496.2 962.3 505.9 L 977.8 519.4 L 1001.1 536.9 L 1020.5 554.3 Q 1034.0 573.7 1041.8 593.1" stroke-width="2.16" />
<path d="M 1029.2 572.7 Q 1035.0 583.4 1036.0 595.0 L 1035.0 604.7" stroke-width="1.76" />
<path d="M 996.2 469.1 L 997.2 480.7 L 1010.8 490.4 L 1026.3 502.0 Q 1043.7 519.4 1057.3 536.9 Q 1069.9 556.3 1075.7 575.6 L 1078.6 590.2" stroke-width="2.16" />
<path d="M 1003.0 496.2 L 1018.5 505.9 Q 1036.0 522.4 1049.5 540.8 Q 1062.1 560.1 1067.9 579.5 L 1070.8 593.1" stroke-width="1.96" />
<path d="M 980.7 487.5 A 5.4 5.8 0 1 0 981.7 498.1 M 989.4 486.5 Q 981.7 492.3 987.5 502.0" stroke-width="1.76" />
<ellipse cx="1025.3" cy="615.4" rx="7.4" ry="12.0" transform="rotate(25 1025.3 615.4)" stroke-width="1.96" />
<ellipse cx="1024.7" cy="616.3" rx="3.7" ry="7.4" transform="rotate(25 1024.7 616.3)" stroke-width="1.76" />
<path d="M 1010.8 606.6 Q 1018.5 600.4 1028.2 602.4 Q 1035.0 608.6 1033.6 618.3 Q 1029.2 626.0 1019.5 627.6" stroke-width="1.96" />
<ellipse cx="1020.5" cy="685.1" rx="6.6" ry="11.6" transform="rotate(20 1020.5 685.1)" stroke-width="1.96" />
<ellipse cx="1020.1" cy="685.7" rx="3.3" ry="7.4" transform="rotate(20 1020.1 685.7)" stroke-width="1.76" />
<path d="M 1010.8 678.3 Q 1018.5 670.6 1026.3 673.5 Q 1029.2 682.2 1025.3 691.9" stroke-width="1.96" />
<path d="M 1010.8 695.8 L 1012.7 703.5 Q 1020.5 709.7 1030.1 705.5 L 1034.0 699.7 L 1045.6 698.7 L 1057.3 695.8 Q 1066.0 690.0 1067.0 682.2 Q 1065.0 676.8 1057.3 674.5" stroke-width="2.16" />
<path d="M 1014.6 697.7 L 1024.3 691.9 L 1032.1 693.8 L 1033.0 700.6" stroke-width="1.96" />
<path d="M 1057.3 683.2 A 4.8 7.8 20 1 0 1058.2 693.8" stroke-width="1.76" />
<path d="M 1043.7 697.7 Q 1040.2 690.0 1045.6 680.3 L 1050.5 675.4" stroke-width="1.96" />
<path d="M 1015.6 630.9 L 1021.4 633.8 L 1022.4 645.4 L 1018.5 660.9 L 1010.8 678.3" stroke-width="1.96" />
<path d="M1041.8 593.1 C1042.0 594.7 1043.2 599.1 1043.1 602.7 C1043.0 606.3 1042.2 610.8 1041.0 614.6 C1039.8 618.5 1037.4 621.9 1035.9 625.7 C1034.3 629.5 1032.5 633.6 1031.6 637.6 C1030.8 641.6 1030.5 645.8 1030.8 649.5 C1031.1 653.2 1031.9 656.9 1033.3 659.7 C1034.8 662.5 1036.6 664.5 1039.3 666.5 C1042.0 668.5 1045.9 670.2 1049.5 671.6 C1053.0 673.0 1057.0 674.4 1060.5 675.0 C1064.1 675.5 1066.9 676.0 1070.7 675.0 C1074.6 674.0 1079.8 671.6 1083.5 669.0 C1087.2 666.5 1091.3 661.2 1092.8 659.7" stroke-width="2.16" />
<path d="M1049.5 610.0 C1050.9 608.5 1054.7 603.5 1058.0 601.0 C1061.2 598.6 1065.5 596.2 1069.0 595.1 C1072.6 594.0 1075.4 593.4 1079.2 594.7 C1083.1 595.9 1088.2 600.0 1092.0 602.7 C1095.8 605.5 1099.9 607.7 1102.2 611.2 C1104.4 614.8 1105.4 619.3 1105.6 624.0 C1105.8 628.7 1104.6 635.0 1103.5 639.3 C1102.3 643.5 1099.6 647.8 1098.8 649.5" stroke-width="2.16" />
<path d="M1095.0 610.4 C1093.0 610.2 1087.5 608.3 1083.5 609.1 C1079.4 610.0 1074.6 612.4 1070.7 615.5 C1066.9 618.5 1063.4 622.9 1060.5 627.4 C1057.7 631.9 1055.0 637.9 1053.7 642.7 C1052.5 647.5 1052.5 652.5 1052.9 656.3 C1053.3 660.1 1055.0 663.5 1056.3 665.6 C1057.6 667.8 1058.8 669.0 1060.5 669.0 C1062.2 669.0 1064.1 667.1 1066.5 665.6 C1068.9 664.2 1072.3 662.6 1075.0 660.5 C1077.7 658.5 1081.4 654.5 1082.6 653.3" stroke-width="2.16" />
<path d="M1093.3 612.9 C1093.5 614.5 1094.7 618.8 1094.5 622.3 C1094.3 625.8 1093.1 630.5 1092.0 634.2 C1090.8 637.9 1088.4 642.7 1087.7 644.4" stroke-width="1.96" />
<path d="M 1079.6 590.2 L 1136.7 587.3 L 1138.7 584.4 L 1152.2 582.4 Q 1163.8 582.4 1169.7 589.2 L 1169.7 595.0 L 1161.9 600.8 L 1150.3 604.7 L 1150.3 610.5 L 1105.7 619.2" stroke-width="2.16" />
<path d="M 1103.8 608.6 L 1141.6 601.8 L 1138.7 588.2" stroke-width="1.96" />
<path d="M 1150.3 604.7 L 1149.3 600.8 L 1167.7 593.1" stroke-width="1.76" />
<path d="M 1158.0 587.3 A 4.8 3.5 0 1 0 1159.0 593.1" stroke-width="1.76" />
<path d="M 1156.1 604.7 L 1156.1 631.8" stroke-width="1.76" />
<path d="M 1076.6 639.6 L 1138.7 674.5" stroke-width="1.76" />
<path d="M 967.7 440.0 L 967.7 467.1" stroke-width="1.76" />
<path d="M 1151.0 681.6 L 1158.0 685.7" stroke-width="1.76" />
<path d="M 1022.4 718.8 L 1022.4 784.6 M 1022.4 792.5 L 1022.4 800.3 M 1022.4 809.7 L 1022.4 875.5 M 1022.4 886.5 L 1022.4 894.4 M 1022.4 903.8 L 1022.4 966.5 M 1022.4 975.9 L 1022.4 985.3 M 1022.4 991.5 L 1022.4 1057.4 M 1022.4 1068.3 L 1022.4 1076.2 M 1022.4 1085.6 L 1022.4 1151.4" stroke-width="2.16" />
<path d="M1216.2 677.8 C1214.0 676.3 1202.6 668.8 1199.3 667.1 C1196.0 665.4 1193.7 665.1 1191.5 665.2 C1189.3 665.2 1185.2 666.4 1182.8 667.6 C1180.3 668.8 1175.7 671.9 1173.1 674.4 C1170.5 676.8 1165.6 682.6 1163.4 686.0 C1161.2 689.4 1157.8 696.0 1156.6 699.6 C1155.5 703.2 1154.8 710.0 1154.7 713.1 C1154.6 716.2 1154.9 720.6 1155.7 722.8 C1156.4 725.0 1159.9 728.7 1160.5 729.6" stroke-width="2.16" />
<path d="M 1160.5 729.6 L 1177.0 739.3 L 1191.5 746.1" stroke-width="2.16" />
<path d="M1216.2 677.8 C1217.4 678.3 1221.5 679.6 1223.5 681.2 C1225.5 682.7 1227.2 684.6 1228.3 687.0 C1229.5 689.4 1230.1 692.6 1230.3 695.7 C1230.4 698.8 1230.1 701.7 1229.3 705.4 C1228.5 709.1 1226.1 715.9 1225.4 718.0" stroke-width="2.16" />
<path d="M1216.7 731.5 C1215.2 732.7 1210.9 736.2 1208.0 738.3 C1205.1 740.4 1202.0 742.8 1199.3 744.1 C1196.5 745.4 1194.1 746.6 1191.5 746.1 C1188.9 745.6 1185.7 743.2 1183.8 741.2 C1181.8 739.3 1180.8 737.2 1179.9 734.4 C1179.0 731.7 1178.3 728.3 1178.4 724.8 C1178.6 721.2 1179.5 717.2 1180.8 713.1 C1182.2 709.1 1184.2 704.6 1186.7 700.5 C1189.1 696.5 1192.3 692.0 1195.4 688.9 C1198.5 685.8 1201.6 684.0 1205.1 682.1 C1208.5 680.3 1214.4 678.5 1216.2 677.8" stroke-width="2.16" />
<path d="M1208.0 685.0 C1209.3 684.9 1213.3 683.7 1215.7 684.1 C1218.2 684.4 1220.7 685.4 1222.5 687.0 C1224.3 688.6 1225.6 691.0 1226.4 693.8 C1227.2 696.5 1227.5 700.2 1227.4 703.4 C1227.2 706.7 1226.3 710.1 1225.4 713.1 C1224.5 716.2 1222.6 720.4 1222.0 721.9" stroke-width="1.96" />
<path d="M1180.4 723.8 C1180.6 725.2 1180.8 729.9 1181.8 732.5 C1182.9 735.1 1184.4 737.8 1186.7 739.3 C1188.9 740.7 1193.5 741.0 1195.4 741.2 C1197.2 741.5 1197.4 740.8 1197.8 740.7" stroke-width="1.96" />
<path d="M1218.6 718.0 C1219.1 716.5 1220.9 712.2 1221.5 709.3 C1222.2 706.4 1222.7 703.1 1222.5 700.5 C1222.4 698.0 1221.7 695.5 1220.6 693.8 C1219.4 692.1 1217.7 690.9 1215.7 690.4 C1213.8 689.8 1211.5 689.5 1208.9 690.4 C1206.4 691.3 1203.0 693.2 1200.2 695.7 C1197.5 698.2 1194.6 701.8 1192.5 705.4 C1190.4 708.9 1188.4 713.5 1187.6 717.0 C1186.8 720.6 1187.0 724.1 1187.6 726.7 C1188.3 729.3 1189.9 731.3 1191.5 732.5 C1193.1 733.7 1195.1 734.3 1197.3 734.0 C1199.6 733.6 1203.0 731.7 1205.1 730.6 C1207.2 729.4 1209.1 727.7 1209.9 727.2" stroke-width="2.16" />
<path d="M 1197.8 708.8 L 1225.4 724.3" stroke-width="1.76" />
<path d="M 1150.3 681.6 L 1158.6 686.5" stroke-width="1.76" />
<path d="M1216.7 751.9 C1217.5 750.3 1220.1 745.6 1221.5 742.2 C1223.0 738.8 1223.6 735.4 1225.4 731.5 C1227.2 727.7 1229.6 722.7 1232.2 718.9 C1234.8 715.2 1237.9 711.9 1240.9 709.3 C1244.0 706.6 1247.4 704.3 1250.6 703.0 C1253.8 701.7 1257.4 701.1 1260.3 701.5 C1263.2 701.9 1266.0 703.4 1268.1 705.4 C1270.1 707.3 1271.6 710.2 1272.4 713.1 C1273.2 716.0 1273.3 719.3 1272.9 722.8 C1272.5 726.4 1271.1 730.9 1270.0 734.4 C1268.9 738.0 1266.8 742.5 1266.1 744.1" stroke-width="2.16" />
<path d="M1258.8 755.3 C1257.6 756.5 1254.4 760.4 1251.6 762.5 C1248.8 764.7 1245.1 767.1 1241.9 768.4 C1238.7 769.6 1234.9 770.3 1232.2 769.8 C1229.5 769.3 1227.4 767.1 1225.4 765.5 C1223.5 763.8 1221.4 760.6 1220.6 759.6" stroke-width="2.16" />
<path d="M1224.4 748.0 C1224.9 745.9 1225.9 739.5 1227.4 735.4 C1228.8 731.4 1230.7 727.3 1233.2 723.8 C1235.6 720.2 1239.0 716.6 1241.9 714.1 C1244.8 711.6 1247.9 709.6 1250.6 708.8 C1253.4 708.0 1256.2 708.4 1258.4 709.3 C1260.5 710.1 1262.4 711.8 1263.7 714.1 C1265.0 716.4 1266.0 719.6 1266.1 722.8 C1266.2 726.1 1265.1 730.3 1264.2 733.5 C1263.3 736.7 1261.3 740.7 1260.8 742.2" stroke-width="1.96" />
<path d="M1224.0 756.7 C1224.5 757.7 1225.7 761.3 1227.4 762.5 C1229.1 763.8 1231.6 764.6 1234.1 764.5 C1236.7 764.3 1240.1 762.9 1242.9 761.6 C1245.6 760.3 1248.5 758.3 1250.6 756.7 C1252.7 755.2 1254.6 753.1 1255.5 752.4" stroke-width="1.96" />
<path d="M 1216.7 751.9 L 1224.4 748.0 L 1222.5 742.7 Z" stroke-width="2.16" style="fill:#111"/>
<path d="M 1220.6 759.6 L 1224.0 756.7 L 1222.5 755.8 L 1219.1 759.2 Z" stroke-width="2.16" style="fill:#111"/>
<path d="M 1241.4 734.4 L 1271.0 750.9" stroke-width="1.76" />
<path d="M1344.3 728.9 C1346.4 729.8 1353.3 731.7 1356.9 734.2 C1360.4 736.7 1363.6 740.4 1365.6 743.9 C1367.6 747.5 1368.5 751.5 1369.0 755.5 C1369.5 759.6 1369.2 764.1 1368.5 768.1 C1367.8 772.2 1365.3 777.8 1364.6 779.8" stroke-width="2.16" />
<path d="M1355.0 805.9 C1353.2 807.5 1348.0 812.4 1344.3 815.6 C1340.6 818.8 1336.7 822.6 1332.7 825.3 C1328.6 828.0 1324.1 830.5 1320.1 832.1 C1316.0 833.7 1312.0 835.0 1308.4 835.0 C1304.9 835.0 1301.5 833.7 1298.8 832.1 C1296.0 830.5 1293.7 828.2 1292.0 825.3 C1290.2 822.4 1288.9 818.5 1288.1 814.6 C1287.3 810.8 1286.8 806.6 1287.1 802.0 C1287.5 797.5 1288.6 792.4 1290.0 787.5 C1291.5 782.7 1293.4 778.0 1295.8 773.0 C1298.3 768.0 1301.3 762.2 1304.6 757.5 C1307.8 752.8 1311.4 748.6 1315.2 744.9 C1319.1 741.2 1323.0 737.9 1327.8 735.2 C1332.7 732.5 1341.5 729.9 1344.3 728.9" stroke-width="2.16" />
<path d="M1345.3 728.9 C1343.3 728.6 1337.5 726.6 1333.6 727.0 C1329.8 727.3 1326.5 728.2 1322.0 730.8 C1317.5 733.5 1311.0 738.3 1306.5 742.9 C1302.0 747.5 1298.6 752.3 1294.9 758.4 C1291.2 764.6 1286.6 773.3 1284.2 779.8 C1281.8 786.2 1280.8 791.9 1280.3 797.2 C1279.9 802.5 1280.3 807.5 1281.3 811.7 C1282.3 815.9 1284.2 819.5 1286.2 822.4 C1288.1 825.3 1291.8 828.0 1292.9 829.2" stroke-width="2.16" />
<path d="M1305.5 743.4 C1304.7 742.9 1302.8 740.8 1300.7 740.0 C1298.6 739.3 1295.7 738.6 1292.9 739.1 C1290.2 739.6 1287.0 741.0 1284.2 742.9 C1281.5 744.9 1278.7 747.5 1276.5 750.7 C1274.2 753.9 1271.8 758.8 1270.7 762.3 C1269.5 765.9 1269.2 769.3 1269.7 772.0 C1270.2 774.8 1271.6 777.1 1273.6 778.8 C1275.5 780.5 1280.0 781.6 1281.3 782.2" stroke-width="2.16" />
<path d="M1348.2 758.4 C1347.2 758.0 1344.8 755.9 1342.4 755.5 C1339.9 755.1 1336.9 754.9 1333.6 756.0 C1330.4 757.2 1326.2 759.5 1323.0 762.3 C1319.7 765.1 1316.7 769.1 1314.3 773.0 C1311.8 776.9 1309.7 781.5 1308.4 785.6 C1307.2 789.6 1306.5 793.8 1306.5 797.2 C1306.5 800.6 1307.3 803.7 1308.4 805.9 C1309.6 808.2 1311.5 809.9 1313.3 810.8 C1315.1 811.7 1318.1 811.2 1319.1 811.2" stroke-width="1.96" />
<path d="M1348.2 758.4 C1348.3 759.3 1347.8 761.7 1349.1 763.3 C1350.4 764.9 1353.8 766.4 1355.9 768.1 C1358.0 769.9 1360.4 772.0 1361.7 773.9 C1363.1 775.9 1364.0 777.5 1364.2 779.8 C1364.3 782.0 1363.4 784.3 1362.7 787.5 C1362.0 790.7 1360.3 797.2 1359.8 799.1" stroke-width="1.96" />
<path d="M1347.2 764.3 C1346.1 764.3 1343.2 763.8 1340.4 764.7 C1337.7 765.7 1333.8 767.4 1330.7 770.1 C1327.7 772.7 1324.2 777.0 1322.0 780.7 C1319.8 784.4 1318.4 788.8 1317.6 792.4 C1316.9 795.9 1316.9 799.1 1317.6 802.0 C1318.4 805.0 1320.0 807.9 1322.0 809.8 C1324.0 811.7 1327.2 812.7 1329.8 813.7 C1332.3 814.6 1335.4 815.3 1337.5 815.6 C1339.6 815.9 1341.5 815.6 1342.4 815.6" stroke-width="1.96" />
<path d="M1360.8 776.9 C1360.1 776.2 1358.7 773.7 1356.9 773.0 C1355.1 772.3 1352.7 771.8 1350.1 772.5 C1347.5 773.1 1344.1 774.5 1341.4 776.9 C1338.6 779.2 1335.6 783.2 1333.6 786.5 C1331.7 789.9 1330.2 793.8 1329.8 797.2 C1329.3 800.6 1329.8 804.3 1330.7 806.9 C1331.7 809.5 1333.8 811.7 1335.6 812.7 C1337.4 813.8 1340.4 813.1 1341.4 813.2" stroke-width="2.16" />
<path d="M1354.5 806.4 C1353.3 807.5 1349.9 811.2 1347.2 812.7 C1344.5 814.2 1339.9 814.7 1338.5 815.1" stroke-width="1.96" />
<path d="M 1341.4 791.4 L 1363.2 804.0" stroke-width="1.76" />
<path d="M 1333.6 742.5 A 4.1 4.4 0 1 0 1329.8 750.2" stroke-width="1.76" />
<path d="M 1363.7 752.1 A 4.1 4.4 0 1 0 1359.8 759.9" stroke-width="1.76" />
<path d="M 1297.8 793.8 A 4.1 4.4 0 1 0 1293.9 801.6" stroke-width="1.76" />
<path d="M 1312.3 822.9 A 4.1 4.4 0 1 0 1308.4 830.6" stroke-width="1.76" />
<path d="M 1396.5 758.7 L 1416.5 768.2 Q 1420.7 772.4 1416.5 777.7 L 1412.3 778.3 L 1392.2 768.2 Q 1390.1 762.9 1396.5 758.7" stroke-width="1.96" />
<ellipse cx="1415.5" cy="773.1" rx="3.4" ry="5.3" transform="rotate(20 1415.5 773.1)" stroke-width="1.76" />
<path d="M 1401.1 760.2 L 1398.6 769.3" stroke-width="1.57" />
<path d="M1369.1 817.2 C1368.7 816.6 1367.2 815.2 1366.9 813.6 C1366.6 812.0 1366.6 809.7 1367.2 807.8 C1367.9 805.8 1369.1 803.2 1370.5 802.0 C1371.9 800.8 1374.3 800.5 1375.6 800.5 C1376.9 800.5 1378.0 801.7 1378.5 802.0" stroke-width="2.16" />
<path d="M 1378.5 802.0 L 1418.5 824.1 M 1369.1 817.2 L 1409.8 839.0" stroke-width="2.16" />
<path d="M1379.6 804.5 C1378.8 805.5 1375.6 808.5 1374.5 810.7 C1373.4 812.9 1373.1 816.4 1372.8 817.6" stroke-width="1.96" />
<path d="M1386.5 808.3 C1385.7 809.3 1382.5 812.3 1381.4 814.5 C1380.3 816.7 1380.0 820.2 1379.7 821.4" stroke-width="1.96" />
<path d="M1393.4 812.1 C1392.6 813.1 1389.4 816.1 1388.3 818.2 C1387.2 820.4 1386.9 824.0 1386.7 825.2" stroke-width="1.96" />
<path d="M1400.3 815.9 C1399.5 816.9 1396.4 819.8 1395.2 822.0 C1394.1 824.2 1393.8 827.8 1393.6 828.9" stroke-width="1.96" />
<path d="M1407.2 819.6 C1406.4 820.7 1403.3 823.6 1402.1 825.8 C1401.0 828.0 1400.7 831.6 1400.5 832.7" stroke-width="1.96" />
<path d="M1414.1 823.4 C1413.3 824.4 1410.2 827.4 1409.0 829.6 C1407.9 831.8 1407.6 835.3 1407.4 836.5" stroke-width="1.96" />
<path d="M1445.0 830.3 C1444.5 829.5 1443.6 827.0 1441.7 825.2 C1439.9 823.4 1436.4 820.3 1433.7 819.4 C1431.1 818.6 1428.0 819.4 1425.7 820.1 C1423.4 820.9 1421.9 821.8 1419.9 823.8 C1418.0 825.7 1415.6 828.6 1414.1 831.8 C1412.6 834.9 1411.2 839.5 1410.8 842.7 C1410.5 845.8 1410.9 848.4 1411.9 850.7 C1413.0 853.0 1415.0 855.1 1417.0 856.5 C1419.1 857.8 1421.7 858.2 1424.3 858.6 C1426.8 859.1 1429.6 859.6 1432.3 859.4 C1434.9 859.1 1438.2 858.4 1440.3 857.2 C1442.4 856.0 1444.2 853.0 1445.0 852.1" stroke-width="2.16" />
<path d="M1426.5 830.3 C1425.6 831.6 1422.4 835.5 1421.4 838.3 C1420.4 841.1 1419.9 844.1 1420.3 847.0 C1420.7 849.9 1422.8 853.8 1423.6 855.7 C1424.3 857.7 1424.5 858.2 1424.7 858.6" stroke-width="1.96" />
<path d="M 1427.6 831.8 L 1435.2 835.0 L 1429.7 848.1 L 1421.7 844.5 Z" stroke-width="1.96" />
<path d="M 1427.6 831.8 L 1432.3 828.1 L 1445.0 826.0 M 1435.2 835.0 L 1445.0 831.8 M 1421.7 844.5 L 1423.6 855.7 M 1429.7 848.1 L 1432.6 859.0" stroke-width="1.96" />
<path d="M876.6 1117.4 C876.3 1115.7 873.8 1110.5 874.6 1107.4 C875.4 1104.3 877.9 1100.8 881.6 1098.7 C885.2 1096.5 890.7 1094.9 896.5 1094.4 C902.4 1094.0 911.3 1094.4 916.5 1096.2 C921.7 1097.9 925.8 1103.5 927.7 1104.9" stroke-width="2.16" />
<path d="M 928.4 1104.9 L 928.9 1124.8 Q 925.2 1132.3 906.5 1136.1 L 905.3 1126.1" stroke-width="2.16" />
<path d="M876.6 1117.4 C877.9 1118.4 880.8 1122.1 884.1 1123.6 C887.4 1125.1 892.0 1126.0 896.5 1126.1 C901.1 1126.2 907.1 1125.8 911.5 1124.3 C915.8 1122.9 919.9 1120.4 922.7 1117.4 C925.5 1114.3 927.5 1108.0 928.4 1106.2" stroke-width="1.96" />
<ellipse cx="902.8" cy="1107.4" rx="12.0" ry="7.0" transform="rotate(-3 902.8 1107.4)" stroke-width="2.16" />
<path d="M 876.6 1117.4 L 869.1 1126.1 L 739.6 1220.8" stroke-width="2.16" />
<path d="M739.6 1220.8 C737.5 1222.2 731.7 1227.6 727.1 1229.5 C722.6 1231.3 716.3 1232.0 712.2 1232.0 C708.0 1232.0 704.9 1231.3 702.2 1229.5 C699.5 1227.6 698.5 1223.7 696.0 1220.8 C693.5 1217.9 690.6 1214.3 687.3 1212.0 C683.9 1209.8 679.4 1207.5 676.1 1207.1 C672.7 1206.6 668.8 1209.1 667.3 1209.5" stroke-width="2.16" />
<path d="M 667.3 1209.5 L 647.4 1222.0" stroke-width="2.16" />
<path d="M 887.8 1127.3 L 881.6 1128.6 L 744.6 1227.0" stroke-width="1.96" />
<path d="M744.6 1227.0 C742.1 1228.4 734.2 1234.0 729.6 1235.7 C725.1 1237.5 721.1 1237.2 717.2 1237.5 C713.2 1237.7 707.8 1237.0 706.0 1237.0" stroke-width="1.96" />
<path d="M 706.0 1237.0 L 691.0 1243.2 M 679.8 1237.0 L 694.7 1229.5" stroke-width="1.96" />
<path d="M649.9 1263.1 C648.4 1261.2 643.0 1255.8 641.2 1251.9 C639.3 1248.0 638.5 1243.6 638.7 1239.4 C638.9 1235.3 640.1 1229.9 642.4 1227.0 C644.7 1224.1 648.4 1221.6 652.4 1222.0 C656.3 1222.4 662.3 1224.9 666.1 1229.5 C669.9 1234.0 673.8 1243.4 675.3 1249.4 C676.8 1255.4 676.6 1261.9 675.3 1265.6 C674.0 1269.3 670.3 1271.2 667.3 1271.8 C664.3 1272.5 659.0 1269.8 657.4 1269.3" stroke-width="2.16" />
<ellipse cx="658.1" cy="1248.2" rx="8.0" ry="11.5" transform="rotate(-15 658.1 1248.2)" stroke-width="2.16" />
<path d="M676.1 1268.1 C678.3 1268.7 682.5 1267.5 689.8 1271.8 C697.0 1276.2 714.7 1290.5 719.7 1294.3" stroke-width="2.16" />
<path d="M 719.7 1294.3 L 864.2 1398.9" stroke-width="2.16" />
<path d="M864.2 1398.9 C866.2 1400.1 873.3 1403.9 876.6 1406.4 C879.9 1408.9 881.6 1411.1 884.1 1413.8 C886.6 1416.5 887.8 1420.3 891.6 1422.6 C895.3 1424.8 901.1 1426.9 906.5 1427.5 C911.9 1428.2 919.2 1427.7 923.9 1426.3 C928.7 1424.8 933.3 1420.1 935.2 1418.8" stroke-width="2.16" />
<path d="M 935.9 1418.8 L 936.4 1398.9" stroke-width="2.16" />
<ellipse cx="910.2" cy="1397.6" rx="25.7" ry="14.0" transform="rotate(3 910.2 1397.6)" stroke-width="2.16" />
<ellipse cx="909.0" cy="1397.6" rx="11.2" ry="6.5" transform="rotate(0 909.0 1397.6)" stroke-width="1.96" />
<path d="M 900.3 1401.4 Q 909.0 1408.9 919.0 1400.1" stroke-width="1.57" />
<path d="M677.3 1251.9 C680.2 1253.1 687.7 1255.2 694.7 1259.4 C701.8 1263.5 715.5 1273.9 719.7 1276.8" stroke-width="1.96" />
<path d="M 719.7 1276.8 L 871.6 1387.7" stroke-width="1.96" />
<path d="M684.8 1244.4 C687.7 1246.1 695.6 1250.0 702.2 1254.4 C708.9 1258.8 720.9 1267.9 724.6 1270.6" stroke-width="1.96" />
<path d="M 724.6 1270.6 L 877.9 1382.7" stroke-width="1.96" />
<path d="M 871.6 1374.0 L 884.1 1369.0" stroke-width="1.76" />
<path d="M 887.8 1127.3 L 809.3 1214.5" stroke-width="1.96" />
<path d="M809.3 1214.5 C808.3 1217.9 803.7 1227.8 803.1 1234.5 C802.5 1241.1 803.7 1248.2 805.6 1254.4 C807.5 1260.6 812.9 1268.9 814.3 1271.8" stroke-width="1.96" />
<path d="M 814.3 1271.8 L 885.3 1362.8" stroke-width="1.96" />
<path d="M 896.5 1129.8 L 816.8 1219.5" stroke-width="1.76" />
<path d="M816.8 1219.5 C815.8 1222.0 811.3 1229.1 810.6 1234.5 C809.8 1239.9 810.9 1246.5 812.3 1251.9 C813.8 1257.3 818.1 1264.4 819.3 1266.9" stroke-width="1.76" />
<path d="M 904.0 1127.3 L 824.3 1222.0" stroke-width="2.16" />
<path d="M824.3 1222.0 C823.0 1224.1 818.0 1229.1 816.8 1234.5 C815.7 1239.9 815.2 1246.9 817.3 1254.4 C819.4 1261.9 827.3 1275.2 829.3 1279.3" stroke-width="2.16" />
<path d="M 829.3 1279.3 L 909.0 1383.9" stroke-width="2.16" />
<path d="M 819.3 1266.9 L 889.1 1359.0" stroke-width="1.76" />
<ellipse cx="787.4" cy="1216.5" rx="13.7" ry="7.5" transform="rotate(-3 787.4 1216.5)" stroke-width="1.96" />
<ellipse cx="763.8" cy="1258.1" rx="22.4" ry="12.5" transform="rotate(-3 763.8 1258.1)" stroke-width="1.96" />
<ellipse cx="763.8" cy="1258.1" rx="14.4" ry="8.0" transform="rotate(-3 763.8 1258.1)" stroke-width="1.96" />
<ellipse cx="800.6" cy="1293.0" rx="13.7" ry="7.5" transform="rotate(-3 800.6 1293.0)" stroke-width="1.96" />
<path d="M 762.0 1223.3 L 800.6 1233.2 M 752.0 1230.7 L 799.4 1243.2 M 752.0 1280.6 L 805.6 1268.1 M 765.7 1288.0 L 811.8 1276.8" stroke-width="1.96" />
<path d="M 625.0 1264.9 L 657.4 1248.2" stroke-width="1.76" />
<path d="M 902.8 1137.8 L 902.8 1172.2" stroke-width="1.76" />
<ellipse cx="902.8" cy="1170.2" rx="9.5" ry="4.0" transform="rotate(0 902.8 1170.2)" stroke-width="1.96" />
<ellipse cx="902.8" cy="1172.2" rx="4.5" ry="2.0" transform="rotate(0 902.8 1172.2)" stroke-width="1.57" />
<path d="M 893.3 1170.2 L 894.0 1176.7 M 912.2 1170.2 L 912.7 1176.7" stroke-width="1.96" />
<path d="M894.0 1176.7 C892.8 1177.2 888.2 1177.1 886.6 1179.7 C884.9 1182.2 884.1 1188.4 884.1 1192.1 C884.1 1195.8 885.2 1199.5 886.6 1202.1 C887.9 1204.7 891.1 1206.6 892.1 1207.6" stroke-width="2.16" />
<path d="M912.7 1176.7 C914.0 1177.6 918.8 1179.6 920.2 1182.1 C921.7 1184.7 921.9 1188.8 921.5 1192.1 C921.0 1195.4 919.2 1199.5 917.7 1202.1 C916.3 1204.7 913.6 1206.6 912.7 1207.6" stroke-width="2.16" />
<path d="M884.6 1187.1 C886.2 1188.2 889.6 1192.3 894.0 1193.4 C898.5 1194.4 907.0 1194.4 911.5 1193.4 C916.0 1192.3 919.4 1188.2 921.0 1187.1" stroke-width="1.76" />
<path d="M886.6 1202.1 C888.2 1202.8 892.8 1205.8 896.5 1206.6 C900.3 1207.3 905.5 1207.3 909.0 1206.6 C912.5 1205.8 916.3 1202.8 917.7 1202.1" stroke-width="1.76" />
<path d="M 892.1 1207.6 L 893.5 1214.5 Q 902.8 1218.3 912.0 1214.0 L 912.7 1207.6" stroke-width="1.96" />
<path d="M 395.7 1263.6 L 449.7 1233.3 L 458.0 1231.6 L 468.4 1232.5 L 463.8 1244.1 L 458.0 1249.1 L 404.8 1279.4" stroke-width="2.16" />
<path d="M421.5 1252.4 C422.6 1253.5 426.8 1256.8 428.1 1259.0 C429.3 1261.2 428.8 1264.6 428.9 1265.7" stroke-width="1.96" />
<path d="M428.9 1246.6 C429.9 1247.7 433.5 1251.0 434.7 1253.2 C436.0 1255.4 436.1 1258.8 436.4 1259.9" stroke-width="1.96" />
<path d="M436.4 1242.4 C437.3 1243.5 440.7 1246.9 441.8 1249.1 C442.9 1251.3 442.8 1254.6 443.0 1255.7" stroke-width="1.96" />
<path d="M442.2 1238.7 C443.2 1239.7 446.8 1242.6 448.0 1244.9 C449.3 1247.2 449.4 1251.1 449.7 1252.4" stroke-width="1.96" />
<path d="M448.9 1234.9 C449.7 1235.9 452.7 1238.4 453.8 1240.8 C454.9 1243.1 455.2 1247.7 455.5 1249.1" stroke-width="1.96" />
<path d="M457.2 1233.3 C457.9 1234.1 460.4 1236.3 461.3 1238.3 C462.2 1240.2 462.4 1243.8 462.6 1244.9" stroke-width="1.96" />
<path d="M368.3 1272.3 C369.1 1271.3 371.9 1268.2 373.3 1266.5 C374.7 1264.8 375.1 1263.0 376.6 1261.9 C378.1 1260.8 380.3 1260.1 382.4 1259.9 C384.5 1259.7 386.9 1259.9 389.1 1260.7 C391.3 1261.5 393.8 1263.0 395.7 1264.8 C397.6 1266.6 399.3 1269.3 400.7 1271.5 C402.1 1273.7 403.2 1275.8 404.0 1278.1 C404.8 1280.5 405.6 1283.4 405.7 1285.6 C405.7 1287.8 405.3 1289.8 404.4 1291.4 C403.6 1293.1 402.3 1294.5 400.7 1295.6 C399.1 1296.7 396.4 1297.6 394.9 1298.1 C393.4 1298.5 392.1 1298.4 391.6 1298.5" stroke-width="2.16" />
<path d="M368.3 1273.1 C367.1 1275.2 366.4 1277.6 366.2 1279.8 C366.0 1282.0 366.3 1284.2 367.1 1286.4 C367.8 1288.6 369.2 1291.1 370.8 1293.1 C372.4 1295.0 374.5 1297.0 376.6 1298.1 C378.7 1299.2 380.8 1299.7 383.3 1299.7 C385.7 1299.8 389.6 1299.3 391.6 1298.5 C393.5 1297.6 394.1 1297.0 394.9 1294.7 C395.6 1292.5 396.4 1287.8 396.1 1284.8 C395.8 1281.7 394.5 1278.8 393.2 1276.5 C391.9 1274.1 390.3 1272.2 388.2 1270.7 C386.2 1269.1 383.3 1267.8 380.8 1267.3 C378.3 1266.8 375.4 1266.8 373.3 1267.7 C371.2 1268.7 369.5 1271.1 368.3 1273.1 Z" stroke-width="2.16" />
<path d="M 372.5 1272.3 L 380.8 1274.8 L 386.6 1269.8 M 380.8 1274.8 L 383.3 1283.1 L 386.6 1287.3 L 394.9 1284.8 M 386.6 1287.3 L 387.4 1290.6 L 384.1 1298.9 M 393.2 1286.4 L 392.4 1298.1" stroke-width="1.96" />
<path d="M 473.3 1229.8 L 478.3 1227.3 M 487.0 1222.3 L 504.4 1212.8" stroke-width="1.76" />
<ellipse cx="565.5" cy="1299.0" rx="14.9" ry="25.9" transform="rotate(-28 565.5 1299.0)" stroke-width="2.16" />
<ellipse cx="560.0" cy="1304.5" rx="9.5" ry="13.7" transform="rotate(-28 560.0 1304.5)" stroke-width="1.96" />
<ellipse cx="559.2" cy="1305.2" rx="5.5" ry="7.5" transform="rotate(-28 559.2 1305.2)" stroke-width="1.76" />
<path d="M 556.7 1302.5 A 2.5 3.5 0 1 0 561.7 1309.5" stroke-width="1.47" />
<path d="M 562.2 1272.6 A 14.9 25.9 -28 0 1 586.6 1317.5" stroke-width="1.96" />
<path d="M 568.0 1272.1 A 14.4 24.9 -28 0 1 591.1 1315.0" stroke-width="1.76" />
<path d="M 578.7 1279.1 L 599.1 1265.9 M 590.4 1313.2 L 616.5 1296.5" stroke-width="2.16" />
<path d="M586.6 1265.9 C588.7 1264.2 594.9 1257.4 599.1 1255.9 C603.3 1254.5 607.8 1255.3 611.6 1257.2 C615.3 1259.0 619.1 1262.6 621.5 1267.1 C623.9 1271.7 626.0 1279.8 626.0 1284.6 C626.0 1289.3 623.2 1293.7 621.5 1295.8 C619.9 1297.9 617.0 1296.8 616.0 1297.0" stroke-width="2.16" />
<path d="M594.1 1259.2 C595.8 1259.0 600.8 1257.3 604.1 1258.4 C607.4 1259.5 611.3 1261.9 614.0 1265.9 C616.7 1269.8 619.5 1277.1 620.3 1282.1 C621.0 1287.1 618.8 1293.5 618.5 1295.8" stroke-width="1.76" />
<path d="M589.1 1263.4 C591.0 1263.2 596.8 1261.1 600.3 1262.1 C603.9 1263.2 607.7 1265.9 610.3 1269.6 C612.9 1273.4 615.4 1280.1 616.0 1284.6 C616.7 1289.1 614.4 1294.5 614.0 1296.5" stroke-width="1.76" />
<path d="M 625.3 1264.6 L 658.9 1246.0" stroke-width="1.76" />
<path d="M1008.2 1150.8 C1009.5 1150.1 1013.5 1147.5 1016.1 1146.5 C1018.7 1145.5 1021.5 1144.6 1024.0 1144.7 C1026.5 1144.8 1029.3 1145.9 1031.2 1146.9 C1033.1 1147.8 1034.5 1149.9 1035.2 1150.5" stroke-width="2.16" />
<path d="M 1035.2 1150.5 L 1035.5 1160.2 L 1031.2 1163.8 L 1022.6 1168.8" stroke-width="2.16" />
<path d="M1035.2 1150.5 C1034.9 1151.4 1034.7 1154.4 1033.4 1155.8 C1032.0 1157.3 1029.0 1158.2 1026.9 1159.4 C1024.7 1160.6 1021.5 1162.4 1020.4 1163.0" stroke-width="1.96" />
<path d="M1022.6 1149.0 C1021.9 1149.3 1019.0 1149.7 1018.3 1150.5 C1017.5 1151.2 1017.4 1152.9 1018.3 1153.7 C1019.1 1154.5 1021.6 1155.1 1023.3 1155.1 C1025.0 1155.2 1027.3 1154.6 1028.3 1154.1 C1029.4 1153.5 1029.5 1152.3 1029.8 1151.9" stroke-width="1.96" />
<path d="M980.5 1166.6 C979.9 1165.1 980.7 1163.3 981.6 1161.6 C982.5 1159.9 983.9 1158.0 985.9 1156.6 C987.9 1155.1 991.1 1153.8 993.8 1153.0 C996.6 1152.2 999.7 1151.8 1002.4 1151.9 C1005.2 1152.0 1008.1 1152.6 1010.4 1153.3 C1012.6 1154.1 1014.6 1155.2 1016.1 1156.6 C1017.6 1157.9 1018.7 1159.9 1019.3 1161.6 C1019.9 1163.3 1020.2 1165.1 1019.7 1166.6 C1019.2 1168.2 1017.8 1169.7 1016.1 1170.9 C1014.4 1172.1 1012.2 1173.2 1009.6 1173.8 C1007.1 1174.5 1003.9 1174.9 1001.0 1174.9 C998.1 1174.9 995.0 1174.5 992.4 1173.8 C989.7 1173.2 987.2 1172.1 985.2 1170.9 C983.2 1169.7 981.1 1168.2 980.5 1166.6 Z" stroke-width="2.16" />
<path d="M987.4 1162.7 C987.7 1163.3 988.2 1165.6 989.5 1166.6 C990.8 1167.7 993.1 1168.7 995.3 1169.1 C997.4 1169.6 1000.1 1169.8 1002.4 1169.5 C1004.8 1169.2 1007.7 1168.3 1009.6 1167.4 C1011.6 1166.4 1013.1 1165.0 1014.0 1163.8 C1014.8 1162.6 1015.0 1161.4 1014.7 1160.2 C1014.3 1159.0 1012.3 1157.2 1011.8 1156.6" stroke-width="1.96" />
<path d="M992.4 1157.3 C992.4 1158.4 993.1 1160.0 994.5 1160.9 C996.0 1161.8 998.9 1162.7 1001.0 1162.7 C1003.2 1162.7 1006.0 1161.8 1007.5 1160.9 C1009.0 1160.0 1010.0 1158.4 1010.0 1157.3 C1010.0 1156.1 1009.0 1154.8 1007.5 1154.1 C1006.0 1153.3 1003.2 1153.0 1001.0 1153.0 C998.9 1153.0 996.0 1153.3 994.5 1154.1 C993.1 1154.8 992.4 1156.1 992.4 1157.3 Z" stroke-width="1.96" />
<path d="M980.5 1168.1 C979.2 1168.6 972.8 1171.2 970.8 1172.4 C968.9 1173.5 966.3 1175.5 965.8 1176.7 C965.3 1177.8 965.8 1180.1 966.9 1181.0 C967.9 1182.0 971.6 1183.6 973.7 1183.9 C975.8 1184.2 980.2 1183.6 982.3 1183.2 C984.4 1182.7 987.8 1181.0 989.5 1180.3 C991.2 1179.6 994.5 1178.1 995.3 1177.8" stroke-width="2.16" />
<path d="M965.1 1177.4 C965.1 1178.5 964.5 1183.6 965.1 1185.3 C965.6 1187.1 967.8 1189.8 969.4 1190.7 C970.9 1191.7 974.7 1192.5 976.6 1192.5 C978.5 1192.6 982.0 1191.7 983.8 1191.1 C985.5 1190.4 988.1 1188.3 989.5 1187.5 C990.9 1186.6 993.9 1185.0 994.5 1184.6" stroke-width="2.16" />
<path d="M 994.9 1178.1 L 994.9 1185.3" stroke-width="2.16" />
<path d="M977.3 1174.9 C976.6 1175.1 973.8 1175.6 973.0 1176.3 C972.1 1177.1 971.7 1178.7 972.3 1179.6 C972.9 1180.4 975.0 1181.2 976.6 1181.4 C978.1 1181.5 980.4 1181.1 981.6 1180.7 C982.8 1180.2 983.4 1178.9 983.8 1178.5" stroke-width="1.96" />
<path d="M994.9 1185.3 C996.6 1185.6 1002.0 1186.9 1005.3 1186.8 C1008.6 1186.6 1012.2 1185.6 1014.7 1184.6 C1017.2 1183.6 1019.2 1182.1 1020.4 1181.0 C1021.6 1179.9 1021.6 1178.6 1021.9 1178.1" stroke-width="2.16" />
<path d="M985.2 1191.8 C985.0 1192.3 983.8 1194.3 983.8 1196.1 C983.7 1197.9 984.3 1204.5 984.5 1206.9 C984.6 1209.2 985.4 1214.6 985.2 1216.2 C985.0 1217.9 983.1 1220.6 983.0 1221.3 C983.0 1222.0 983.7 1222.1 984.5 1222.3 C985.2 1222.6 987.9 1222.9 989.5 1223.1 C991.1 1223.2 995.8 1223.6 998.1 1223.4 C1000.5 1223.3 1007.1 1222.7 1009.6 1222.0 C1012.2 1221.3 1017.7 1218.8 1019.7 1217.7 C1021.7 1216.6 1025.7 1213.9 1026.9 1212.6 C1028.1 1211.4 1029.6 1208.0 1029.8 1206.9 C1029.9 1205.8 1028.7 1204.6 1028.3 1203.3 C1028.0 1202.0 1027.6 1199.0 1026.9 1196.1 C1026.1 1193.2 1022.7 1181.6 1021.9 1178.1 C1021.0 1174.7 1020.0 1168.0 1019.7 1166.6" stroke-width="2.16" />
<path d="M983.8 1196.1 C985.2 1196.2 989.0 1196.9 992.4 1196.8 C995.7 1196.7 1000.3 1196.1 1003.9 1195.4 C1007.5 1194.7 1011.1 1193.7 1014.0 1192.5 C1016.8 1191.3 1019.5 1189.4 1021.1 1188.2 C1022.8 1187.0 1023.5 1185.8 1024.0 1185.3" stroke-width="2.06" />
<path d="M985.2 1215.9 C986.9 1215.9 991.9 1216.4 995.3 1216.2 C998.6 1216.1 1001.8 1215.6 1005.3 1214.8 C1008.8 1214.0 1013.0 1212.5 1016.1 1211.2 C1019.2 1209.9 1022.1 1208.2 1024.0 1206.9 C1025.9 1205.6 1027.0 1203.9 1027.6 1203.3" stroke-width="2.06" />
<path d="M991.7 1223.8 C991.8 1224.7 992.5 1231.7 993.1 1232.8 C993.7 1233.9 997.0 1234.8 998.1 1234.9 C999.3 1235.0 1003.7 1234.1 1004.6 1233.8 C1005.5 1233.6 1007.2 1233.2 1007.5 1232.1 C1007.7 1230.9 1007.2 1223.6 1007.1 1222.7" stroke-width="2.06" />
<path d="M 999.4 1239.9 L 999.4 1304.0" stroke-width="1.76" />
<path d="M 990.8 1307.9 L 982.9 1310.5 M 975.1 1315.8 L 914.9 1345.8" stroke-width="1.76" />
<path d="M 910.2 1351.1 L 910.2 1374.6 M 910.2 1381.2 L 910.2 1396.8" stroke-width="1.76" />
<path d="M 1027.4 1174.5 L 1037.8 1179.8 M 1043.1 1183.7 L 1061.4 1192.8 L 1061.4 1254.3" stroke-width="1.76" />
<path d="M 1054.8 1256.9 L 1054.8 1287.0 M 1069.2 1256.9 L 1069.2 1287.0" stroke-width="1.96" />
<ellipse cx="1061.9" cy="1256.4" rx="7.3" ry="2.6" transform="rotate(0 1061.9 1256.4)" stroke-width="1.76" />
<path d="M 1054.8 1263.5 Q 1061.9 1267.4 1069.2 1263.5 M 1054.8 1271.3 Q 1061.9 1275.2 1069.2 1271.3 M 1054.8 1279.2 Q 1061.9 1283.1 1069.2 1279.2" stroke-width="1.76" />
<ellipse cx="1062.7" cy="1288.8" rx="13.9" ry="5.8" transform="rotate(0 1062.7 1288.8)" stroke-width="2.16" />
<path d="M 1048.8 1288.8 L 1049.4 1300.1 Q 1062.7 1309.2 1076.6 1300.1 L 1076.6 1288.8" stroke-width="2.16" />
<path d="M 501.2 576.9 L 506.6 566.7 L 519.4 564.8 L 528.0 572.1 L 525.7 584.8 L 514.6 593.4 L 505.1 589.6 Z" stroke-width="2.16" />
<path d="M 506.6 566.7 L 512.1 575.3 L 510.8 589.6 M 512.1 575.3 L 528.0 572.1" stroke-width="1.76" />
<ellipse cx="522.6" cy="581.7" rx="6.4" ry="8.3" transform="rotate(15 522.6 581.7)" stroke-width="1.96" />
<path d="M 520.3 578.5 A 2.5 3.8 0 1 0 525.7 584.8" stroke-width="1.47" />
<path d="M514.6 593.4 C515.9 593.6 520.0 595.3 522.6 594.4 C525.1 593.5 528.5 590.4 529.9 588.0 C531.3 585.6 531.5 582.7 531.2 580.1 C530.8 577.4 528.5 573.4 528.0 572.1" stroke-width="1.96" />
<path d="M 548.2 1235.2 L 567.5 1223.9 L 579.2 1228.9 L 617.0 1208.2 Q 624.2 1201.9 625.1 1192.9 L 654.7 1178.5 L 660.1 1179.4" stroke-width="2.16" />
<path d="M 568.4 1171.3 L 567.5 1215.4 L 569.3 1218.1 L 580.1 1224.4 L 613.4 1204.6 Q 620.2 1199.2 620.9 1189.3 L 650.8 1173.1" stroke-width="1.96" />
<path d="M 569.3 1170.4 L 626.9 1139.0 Q 632.2 1134.5 634.0 1126.4 L 639.4 1101.2 L 642.1 1081.4 Q 643.0 1075.1 648.4 1071.5 L 658.3 1069.7" stroke-width="1.96" />
<path d="M 626.0 1151.6 L 655.1 1170.3 L 658.3 1174.0" stroke-width="1.76" />
<path d="M894.0 1446.7 C894.6 1445.8 896.1 1442.7 897.5 1441.3 C898.9 1439.8 900.7 1438.7 902.5 1437.9 C904.3 1437.1 906.2 1436.7 908.3 1436.5 C910.4 1436.2 912.9 1436.2 914.9 1436.5 C917.0 1436.8 919.0 1437.4 920.8 1438.4 C922.6 1439.3 924.4 1440.6 925.7 1442.1 C927.1 1443.6 928.5 1446.6 929.1 1447.5" stroke-width="2.25" />
<path d="M 894.0 1446.7 L 902.5 1455.0 L 920.3 1454.5 L 929.1 1447.5" stroke-width="2.25" />
<path d="M 893.4 1447.1 L 893.4 1460.8 M 902.5 1455.0 L 902.9 1465.3 M 920.3 1454.5 L 919.9 1465.3 M 929.7 1447.9 L 929.7 1459.9" stroke-width="2.25" />
<path d="M893.4 1460.8 C893.9 1461.5 895.3 1464.0 896.7 1465.3 C898.1 1466.7 899.7 1467.8 901.7 1468.7 C903.6 1469.5 906.2 1470.1 908.3 1470.3 C910.4 1470.6 912.1 1470.5 914.1 1470.1 C916.1 1469.8 918.4 1469.1 920.3 1468.2 C922.3 1467.4 924.2 1466.3 925.7 1464.9 C927.3 1463.5 929.0 1460.8 929.7 1459.9" stroke-width="2.25" />
<ellipse cx="911.4" cy="1445.6" rx="8.9" ry="5.4" transform="rotate(0 911.4 1445.6)" stroke-width="2.16" />
<path d="M537.8 210.1 C538.3 209.3 539.6 206.8 540.7 205.6 C541.9 204.4 543.3 203.6 544.8 202.9 C546.3 202.2 547.9 201.9 549.6 201.7 C551.3 201.5 553.3 201.5 555.0 201.7 C556.7 202.0 558.3 202.5 559.8 203.2 C561.3 204.0 562.7 205.1 563.9 206.3 C565.0 207.6 566.1 210.0 566.6 210.7" stroke-width="2.25" />
<path d="M 537.8 210.1 L 544.8 216.9 L 559.5 216.5 L 566.6 210.7" stroke-width="2.25" />
<path d="M 537.3 210.4 L 537.3 221.6 M 544.8 216.9 L 545.2 225.4 M 559.5 216.5 L 559.1 225.4 M 567.1 211.1 L 567.1 220.9" stroke-width="2.25" />
<path d="M537.3 221.6 C537.8 222.3 538.9 224.3 540.0 225.4 C541.2 226.5 542.5 227.4 544.1 228.1 C545.7 228.8 547.9 229.3 549.6 229.5 C551.3 229.7 552.7 229.6 554.3 229.3 C556.0 229.0 557.9 228.5 559.5 227.8 C561.0 227.0 562.6 226.2 563.9 225.0 C565.2 223.9 566.6 221.6 567.1 220.9" stroke-width="2.25" />
<ellipse cx="552.1" cy="209.2" rx="7.3" ry="4.4" transform="rotate(0 552.1 209.2)" stroke-width="2.16" />
<path d="M1141.9 635.8 C1142.4 635.0 1143.7 632.4 1145.0 631.1 C1146.2 629.9 1147.7 629.0 1149.3 628.3 C1150.8 627.6 1152.5 627.2 1154.3 627.0 C1156.0 626.8 1158.2 626.8 1160.0 627.0 C1161.7 627.3 1163.4 627.8 1165.0 628.6 C1166.5 629.4 1168.1 630.5 1169.2 631.9 C1170.4 633.2 1171.6 635.7 1172.1 636.5" stroke-width="2.25" />
<path d="M 1141.9 635.8 L 1149.3 642.9 L 1164.6 642.6 L 1172.1 636.5" stroke-width="2.25" />
<path d="M 1141.4 636.1 L 1141.4 647.9 M 1149.3 642.9 L 1149.6 651.9 M 1164.6 642.6 L 1164.2 651.9 M 1172.6 636.9 L 1172.6 647.2" stroke-width="2.25" />
<path d="M1141.4 647.9 C1141.9 648.6 1143.1 650.7 1144.3 651.9 C1145.4 653.0 1146.9 654.0 1148.5 654.7 C1150.2 655.4 1152.5 655.9 1154.3 656.1 C1156.0 656.3 1157.5 656.3 1159.2 656.0 C1161.0 655.7 1162.9 655.1 1164.6 654.4 C1166.3 653.6 1167.9 652.7 1169.2 651.5 C1170.6 650.3 1172.1 647.9 1172.6 647.2" stroke-width="2.25" />
<ellipse cx="1156.9" cy="634.9" rx="7.7" ry="4.6" transform="rotate(0 1156.9 634.9)" stroke-width="2.16" />
</g>
<g>
<text x="532.5" y="147.5" font-size="33.5" textLength="36.0" lengthAdjust="spacingAndGlyphs">19</text>
<text x="440.5" y="279.0" font-size="33.5" textLength="38.0" lengthAdjust="spacingAndGlyphs">17</text>
<text x="445.5" y="334.5" font-size="33.5" textLength="36.0" lengthAdjust="spacingAndGlyphs">16</text>
<text x="345.5" y="282.5" font-size="33.5" textLength="34.0" lengthAdjust="spacingAndGlyphs">15</text>
<text x="599.5" y="393.0" font-size="33.5" textLength="36.0" lengthAdjust="spacingAndGlyphs">18</text>
<text x="1042.1" y="271.0" font-size="33.5" textLength="34.8" lengthAdjust="spacingAndGlyphs">14</text>
<text x="881.5" y="362.0" font-size="33.5" textLength="37.6" lengthAdjust="spacingAndGlyphs">22</text>
<text x="1075.5" y="512.7" font-size="33.5" textLength="20.5" lengthAdjust="spacingAndGlyphs">5</text>
<text x="414.5" y="588.0" font-size="33.5" textLength="34.0" lengthAdjust="spacingAndGlyphs">21</text>
<text x="778.9" y="643.7" font-size="33.5" textLength="38.0" lengthAdjust="spacingAndGlyphs">20</text>
<text x="1317.3" y="672.6" font-size="33.5" textLength="29.2" lengthAdjust="spacingAndGlyphs">11</text>
<text x="1393.5" y="706.8" font-size="33.5" textLength="36.0" lengthAdjust="spacingAndGlyphs">12</text>
<text x="1117.5" y="784.4" font-size="33.5" textLength="36.0" lengthAdjust="spacingAndGlyphs">13</text>
<text x="1225.2" y="846.2" font-size="33.5" textLength="18.8" lengthAdjust="spacingAndGlyphs">6</text>
<text x="1205.5" y="921.0" font-size="33.5" textLength="37.2" lengthAdjust="spacingAndGlyphs">25</text>
<text x="1389.5" y="939.5" font-size="33.5" textLength="20.0" lengthAdjust="spacingAndGlyphs">7</text>
<text x="1085.5" y="1165.4" font-size="33.5" textLength="19.8" lengthAdjust="spacingAndGlyphs">8</text>
<text x="393.8" y="1197.4" font-size="33.5" textLength="36.9" lengthAdjust="spacingAndGlyphs">23</text>
<text x="892.5" y="1294.8" font-size="33.5" textLength="20.0" lengthAdjust="spacingAndGlyphs">3</text>
<text x="1131.8" y="1304.0" font-size="33.5" textLength="20.0" lengthAdjust="spacingAndGlyphs">9</text>
<text x="562.7" y="1395.4" font-size="33.5" textLength="20.0" lengthAdjust="spacingAndGlyphs">4</text>
<text x="631.2" y="1395.4" font-size="33.5" textLength="19.3" lengthAdjust="spacingAndGlyphs">3</text>
<text x="637.5" y="1456.0" font-size="33.5" textLength="18.4" lengthAdjust="spacingAndGlyphs">2</text>
<text x="982.7" y="1464.8" font-size="33.5" textLength="37.0" lengthAdjust="spacingAndGlyphs">10</text>
<text x="470.5" y="872.7" font-size="33.5" text-anchor="middle">1</text>
</g>
</svg>
</body></html>
